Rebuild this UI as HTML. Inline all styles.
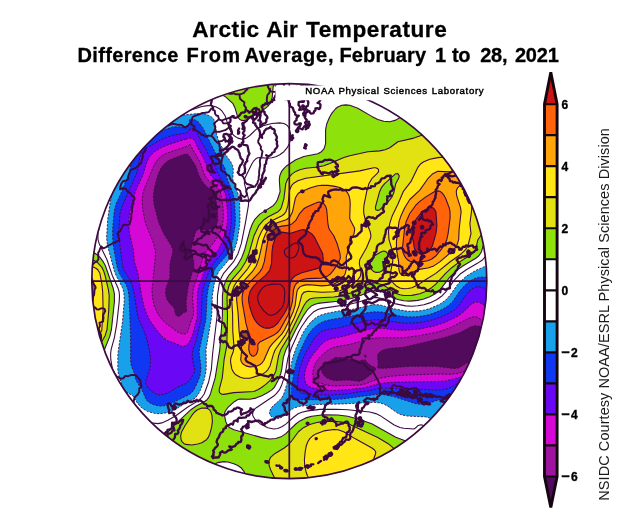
<!DOCTYPE html>
<html lang="en"><head><meta charset="utf-8"><title>Arctic Air Temperature</title>
<style>
html,body{margin:0;padding:0;background:#fff}
body{width:633px;height:525px;overflow:hidden;font-family:"Liberation Sans",sans-serif}
svg{display:block;position:absolute;left:0;top:0}
.t1{font:bold 22.6px "Liberation Sans",sans-serif;fill:#000;stroke:#000;stroke-width:.3}
.t2{font:bold 20px "Liberation Sans",sans-serif;fill:#000;stroke:#000;stroke-width:.3}
.cl{fill:none;stroke:#3b0a40;stroke-width:1.1;stroke-linejoin:round}
.ng{stroke-dasharray:2.2 1.4;stroke-width:1;stroke-opacity:.85}
.cbo{fill:none;stroke:#14060f;stroke-width:2.9;stroke-linejoin:miter}
.cbl text{font:bold 12px "Liberation Sans",sans-serif;fill:#000;stroke:#000;stroke-width:.35}
.side{font:14.5px "Liberation Sans",sans-serif;fill:#1a1a1a}
.noaa{font:9.6px "Liberation Sans",sans-serif;fill:#000;stroke:#000;stroke-width:.45;word-spacing:.6px}
.coast{fill:none;stroke:#3b0a40;stroke-width:2.3;stroke-linejoin:round;stroke-linecap:round}
.isl{stroke-width:2.6;fill:rgba(59,10,64,.5)}
.bord{fill:none;stroke:#3b0a40;stroke-width:1.9;stroke-linejoin:round}
.fr{fill:none;stroke:#3b0a40;stroke-width:1.7}
</style></head>
<body>
<svg width="633" height="525" viewBox="0 0 633 525">
<rect width="633" height="525" fill="#fff"/>
<text class="t1" y="36.6"><tspan x="192.2" style="letter-spacing:0.56px">Arctic</tspan> <tspan x="266.3" style="letter-spacing:0.00px">Air</tspan> <tspan x="306.0" style="letter-spacing:0.56px">Temperature</tspan></text>
<text class="t2" y="62"><tspan x="77.6" style="letter-spacing:0.33px">Difference</tspan> <tspan x="186.6" style="letter-spacing:1.13px">From</tspan> <tspan x="244.4" style="letter-spacing:0.77px">Average,</tspan> <tspan x="339.5" style="letter-spacing:0.14px">February</tspan> <tspan x="435.0" style="letter-spacing:0.00px">1</tspan> <tspan x="452.0" style="letter-spacing:-0.30px">to</tspan> <tspan x="480.3" style="letter-spacing:-0.30px">28,</tspan> <tspan x="514.9" style="letter-spacing:-0.20px">2021</tspan></text>
<defs><clipPath id="disc"><circle cx="289.3" cy="281.2" r="197.5"/></clipPath></defs>
<g clip-path="url(#disc)">
<rect x="80" y="70" width="420" height="420" fill="#fff"/>
<g id="field">
<path fill="#8ee10a" d="M85.8,77.7L274,77.7L272.2,97.7L269.9,103.7L267.8,106.3L263.7,109.7L247.8,119.5L243.8,120.6L241.8,120.4L239.8,119.5L237.8,117.2L234.9,107.7L233,103.7L225.8,97.1L223.8,95.8L219.8,94.7L213.8,94.6L207.8,95.8L201.8,97.9L193.8,101.4L189.8,102.6L173.8,101.8L163.8,103.2L153.8,106.7L144,111.7L133.8,118.2L124.3,125.7L118.6,131.7L113.8,138.3L109.8,145.7L105.9,155.7L97.8,182.1L95.8,191.7L93.3,209.7L87.4,225.7L86.3,229.7L85.9,233.7L87,241.7L89.4,247.7L92.5,251.7L97.8,255.2L99.8,257.2L103.2,261.7L105.4,265.7L113,287.7L114.4,293.7L114.4,301.7L111.4,329.7L109.8,336.4L104.4,349.7L103.6,353.7L103.7,359.7L105.6,371.7L104.7,387.7L105.2,395.7L107.1,403.7L110.4,411.7L115.4,419.7L120.5,425.7L127.8,432.2L135.8,437.2L143.8,440.5L149.8,441.5L155.8,440.9L161.8,438L165.8,434.4L173.9,425.7L190.9,409.7L195.8,406.3L204.4,401.7L207,399.7L208.6,397.7L210.5,393.7L215.2,377.7L219.8,349.7L222.4,315.7L222.4,295.7L223.4,287.7L225.8,280.4L228.6,275.7L237.1,265.7L241.7,257.7L244.7,249.7L250.1,229.7L252.4,223.7L254.6,219.7L259.8,214.1L273.1,205.7L275.8,202.6L277.4,199.7L280.1,191.7L279.3,179.7L279.8,175.7L281.4,171.7L283.8,168.6L286.8,165.7L295.8,159.8L303.8,156.5L317.8,153.7L321.4,151.7L323.3,149.7L324.4,147.7L325.6,143.7L325.6,129.7L326.8,123.7L329.3,117.7L331.5,113.7L335.8,108.5L337.8,107L341.8,105.3L345.8,104.9L349.8,105.3L357.8,108.2L371.8,116.4L377.8,119.4L383.8,121.3L389.8,121.8L395.8,120.1L403.8,115.3L407.8,113.8L411.8,113.4L421.8,114.8L425.8,114.5L433.8,112.5L455.8,105.3L467.8,102.5L475.8,101.6L481.8,101.6L487.8,102.2L493.8,103.6L493.8,226.5L490.3,233.7L484.3,241.7L481.5,251.7L479.8,254.7L475.8,258.2L461.8,266.6L455.8,271.1L449.4,277.7L441.8,287.7L437.8,292L431.8,295.7L423.8,299L413.8,300.9L407.8,301L401.8,300.4L393.8,298L379.8,290.6L375.8,290.3L369.8,291.7L357.8,296.6L347.8,299.5L337.8,301.3L319.8,303.1L315.8,304L311.8,305.7L307.8,309.3L303.8,315.1L295.8,329.5L285.9,349.7L283.3,357.7L281.7,369.7L280.7,373.7L277.8,381L274.1,387.7L271.8,389.9L267.8,392.5L261.8,395.7L255.8,398.1L249.8,399.3L239.8,399L237.5,399.7L234.3,401.7L227.7,407.7L225,411.7L224.5,413.7L224.9,417.7L225.8,421.7L227.7,425.7L229.8,427.8L234,429.7L261.8,437.6L269.8,439L275.8,438.5L281.8,436.4L285.8,433.6L295.8,424L299.8,420.9L305.8,417.9L311.8,416.2L323.8,414.8L337.8,415L347.8,416.3L360.3,419.7L371.8,423.8L395.8,437.2L407.8,441.8L419.8,451L433.8,460.7L473.8,485.7L250.1,485.7L244.1,471.7L241,467.7L237.8,465.5L233.8,463.7L227.8,462L223.8,461.6L217.8,462.6L215.5,463.7L211.8,466.4L202.9,475.7L195.6,485.7L85.8,485.7Z"/>
<path fill="#e2e212" d="M85.8,77.7L216.9,77.7L195.8,88.1L189.8,90.6L183.8,91.8L165.8,93.3L159.8,94.6L151.8,97.1L143.8,100.7L135.8,105.1L127.8,110.5L121.8,115.2L115.8,120.8L109.8,127.8L104.5,135.7L100.3,143.7L96.2,153.7L92.2,165.7L88.7,177.7L85.8,191ZM461.6,131.7L471.8,130.1L479.8,130.6L487.8,132.9L493.8,136.5L493.8,193.2L487.8,203.6L483.8,213.7L481.9,219.7L481.4,223.7L483,229.7L482.9,231.7L482.1,233.7L477.9,239.7L475.8,249.2L474.3,251.7L469.4,255.7L457.8,263.1L451.8,267.7L445.4,273.7L435.8,284.1L431.8,287.5L424.8,291.7L419.8,293.8L409.8,295.5L403.8,295.5L399.8,294.8L393.8,292.2L385.8,286.6L381.8,284.5L373.8,282.8L371.8,282.9L367.8,284.4L354.3,291.7L342.5,295.7L333.8,297L313.8,298L309.8,299L306.4,301.7L303.8,305.7L289.1,335.7L280.7,349.7L278.6,355.7L275.8,371.3L273.6,375.7L269.8,380.7L265.8,384.4L261.2,387.7L257.8,389.8L253.8,391.5L233.8,392.6L223.8,394.4L221.8,394.3L219.8,392.9L219.3,391.7L219.2,389.7L222.3,377.7L224.1,359.7L226.8,345.7L227.5,315.7L227,297.7L227.5,291.7L228.4,287.7L229.9,283.7L232.1,279.7L240.7,269.7L245.7,261.7L248.9,253.7L254,235.7L258.7,225.7L264,219.7L267.8,217L278.1,211.7L280.1,209.7L281.3,207.7L283.8,199.2L285.8,183.7L287.3,179.7L289.8,176L293.8,172.6L299.8,169.7L305.8,168.3L317.8,167L323.8,165.7L347.8,156.2L367.8,151.8L379.8,150.9L385.1,149.7L389.8,147.7L397.8,141.8L413.8,138.1L419.8,135.7L421.8,135.2L427.8,135.3L437.8,137L441.8,137.2L447.8,136ZM395.8,173.7L384.6,183.7L381.4,187.7L379.6,191.7L375.8,205.7L375.4,207.7L375.8,209.8L377.8,210.5L379.9,209.7L387.8,202.2L391.8,197.3L393.8,192.8L395.7,183.7L398.9,177.7L399.2,175.7L397.8,173.6ZM381.8,251.5L374.5,255.7L371.8,261.3L369.8,262.6L369.2,263.7L369.8,266.6L371.6,269.7L373.8,271.6L375.8,272.4L379.8,272.1L381.8,271.1L383.8,268.9L385.2,265.7L385.8,261.7L387.9,255.7L387.8,253.7L385.8,251.6L383.8,251ZM85.8,255.7L85.8,254.9L97.8,262.8L102.1,267.7L103.8,271.3L105.1,275.7L108.4,289.7L109.2,295.7L108.8,309.7L107,329.7L105.1,335.7L98.4,347.7L97,351.7L96.2,355.7L96.2,373.7L95.1,395.7L95.8,403.7L97.3,411.7L101.8,425.2L107.8,437L115.8,449.1L135,473.7L138.7,479.7L141.4,485.7L85.8,485.7ZM197.4,409.7L201.8,408.1L205.8,408.1L207.8,408.6L209.4,409.7L210.8,411.7L212,415.7L212.4,421.7L211.5,427.7L209.9,433.7L208.1,437.7L206.5,439.7L201.8,442.8L197.8,444L191.8,445L185.8,444.4L183.8,443.4L182,441.7L181.1,439.7L180.7,435.7L181.7,431.7L185,425.7L191.6,415.7L194.9,411.7ZM321.1,421.7L333.8,421.1L339.8,421.7L345.8,423.2L352.4,425.7L369.8,433.6L385.4,441.7L392.9,447.7L399.5,455.7L404.8,463.7L417.9,485.7L278.2,485.7L270.6,469.7L269.2,465.7L268.8,461.7L270.3,457.7L274.7,453.7L283.8,448.2L287.8,445.2L291.8,440.8L298.4,431.7L301.8,428.7L309.8,424.5L315.8,422.7Z"/>
<path fill="#ffe614" d="M85.8,77.7L180,77.7L157.8,83.5L145.8,87.8L131.8,95L119.8,103.3L108.5,113.7L99.8,124.3L91.8,137.7L85.8,151.5ZM460.4,151.7L465.8,150.5L469.8,150.4L473.8,151.1L477.8,152.7L481.6,155.7L483.3,157.7L485.3,161.7L486.3,165.7L486.2,171.7L483.8,179.1L479.8,185.6L473.2,193.7L471.5,197.7L471.7,209.7L469.9,223.7L471,233.7L468,245.7L465.6,249.7L461.5,253.7L450.2,261.7L435.8,273.4L425.5,279.7L417.8,285.1L411.9,287.7L407.8,288.5L403.8,288.7L399.8,288L396,285.7L393.8,283.7L390.9,279.7L390.2,277.7L390.3,273.7L392.7,261.7L393.1,255.7L392,249.7L389,239.7L388.5,231.7L389.7,223.7L392.3,215.7L398.1,203.7L403.2,191.7L410.9,181.7L417.7,167.7L420.8,163.7L423.8,161.7L429.8,159.2L437.8,157.6L447.8,156.8ZM373.7,167.7L375.8,167.8L377.8,168.8L378.5,169.7L378.6,171.7L377,173.7L371.8,178.7L368.9,183.7L366.7,191.7L363.9,205.7L363.6,209.7L363.8,213.7L364.8,217.7L370.2,231.7L370.9,235.7L370.7,237.7L366.5,247.7L359.7,259.7L359.3,263.7L361,271.7L360.5,275.7L359.5,277.7L357.8,279.9L353.3,283.7L346.8,287.7L339.8,290.7L333.8,291.7L321.8,292.2L307.8,291.3L303.8,292.4L301.8,294.9L299,305.7L294.3,317.7L285.8,334.6L275.2,349.7L273.6,353.7L270.1,365.7L267.8,369.8L265.8,371.9L261.8,374.6L249.8,378.2L243.8,378.2L239.8,376.9L235.8,374.8L233.8,372.7L231.8,368.9L230.5,361.7L230.9,357.7L233.2,351.7L234.1,347.7L232.8,331.7L232.6,313.7L231.7,299.7L231.9,293.7L232.7,289.7L234.3,285.7L236.8,281.7L247,269.7L250.8,263.7L253.9,255.7L258.7,237.7L261.4,231.7L263.8,227.7L267.3,223.7L269.8,221.8L282,215.7L284.5,213.7L286,211.7L287.9,205.7L289.7,189.7L291.5,185.7L293.8,183.2L297.8,180.7L305.8,178.2L359.8,170.9ZM85.8,263.7L85.8,263.3L95.8,268.3L97.8,269.7L99.8,273L101.8,283.7L102.7,291.7L103.1,309.7L101.8,330.2L100,333.7L96.2,337.7L93.3,341.7L89.5,349.7L87.2,359.7L85.8,375.1ZM85.8,421.7L88.6,433.7L91.8,444.6L106.5,485.7L85.8,485.7ZM330.4,429.7L337.8,429.7L343.7,431.7L355.8,439.1L371.5,447.7L374.3,449.7L375.7,451.7L375.6,453.7L371.8,464.2L363.8,479.6L359.9,485.7L316.9,485.7L311.8,481.7L307.8,476.5L305.5,469.7L304.4,461.7L305.5,449.7L307.8,441.7L310.6,437.7L316.1,433.7L321.8,431.4Z"/>
<path fill="#ffa50a" d="M85.8,77.7L137.8,77.7L129.8,82.2L121.8,87.4L113.8,93.4L107.8,98.7L101.8,104.6L95.8,111.5L91.1,117.7L85.8,126ZM456.9,167.7L459.8,166.3L461.8,165.9L465.8,166.7L467.2,167.7L468.6,169.7L469.2,173.7L467.8,177.7L466.4,179.7L457.8,187.6L456.7,189.7L456.3,191.7L456.7,195.7L460.5,207.7L461.1,211.7L459.1,229.7L458.7,239.7L456.8,245.7L455.5,247.7L451.7,251.7L439.8,261.9L433.8,265.9L427.8,268L417.8,269.6L407.8,275.3L403.8,275.8L401.8,275L399.8,272.9L398.9,269.7L398.6,261.7L396.5,249.7L396.4,241.7L399,221.7L401,215.7L404.7,207.7L409.8,199.5L419.8,190.1L427.8,178.7L432.8,173.7L437.8,171.2L449.8,171.9L451.8,171.3ZM317.6,185.7L321.8,185.3L327.8,185.4L333.8,186.1L339.8,187.5L343.8,189.4L345.8,190.9L347.8,193.2L349,195.7L349.9,199.7L350.2,203.7L349.7,217.7L350.2,219.7L354.4,227.7L354.7,229.7L354,233.7L350.1,241.7L349.2,247.7L346.6,255.7L346.2,257.7L346.7,267.7L345.2,273.7L342.8,277.7L341,279.7L337.8,282.3L333.8,284.1L327.8,285.4L321.8,285.9L309.8,284.8L305.8,284.9L301.8,285.9L299.8,287.1L297.8,289.4L296.9,291.7L295.1,305.7L293.2,311.7L289.8,319.3L284.6,329.7L281.8,334.1L272.5,343.7L269.4,347.7L263.8,360.5L261.8,363.1L259.8,364.7L255.8,366.5L249.8,366.9L245.8,365.9L242.7,363.7L241.3,361.7L240.7,359.7L241.7,349.7L239.1,331.7L238.1,313.7L236.6,299.7L236.8,293.7L237.8,289.7L241.4,283.7L252.3,271.7L256.3,265.7L259.1,257.7L263.2,239.7L265.6,233.7L268,229.7L269.8,227.6L273.8,224.4L277.8,222.5L286.2,219.7L289.8,217.3L292.5,211.7L295.5,197.7L297.9,193.7L299.8,192.3L310.6,187.7ZM85.8,273.7L85.8,273.3L89.8,275.9L91.6,277.7L92.7,279.7L93.9,283.7L94.3,289.7L93.2,299.7L89.4,311.7L89.6,319.7L89.2,323.7L85.8,333.1Z"/>
<path fill="#ff640a" d="M85.8,77.7L113,77.7L105.8,83.7L97.8,91.3L85.8,105.1ZM434.3,191.7L437.8,190.9L439.8,191.3L441.8,192.6L443.8,195.1L445.8,198.7L449.2,207.7L450,211.7L450.1,217.7L448.1,233.7L446.8,239.7L445.1,243.7L441.1,249.7L436.1,255.7L431.8,259L427.8,260.7L421.8,261.8L413.8,262L409.8,261.2L407.8,260.1L405.5,257.7L403.4,253.7L402.3,249.7L404.4,229.7L406.1,221.7L409.8,213.5L415.8,205.2L419.8,201.4L425.8,196.9ZM314.1,203.7L317.8,202.2L319.8,202L321.8,202.5L323.8,203.7L325.8,206.6L326.7,209.7L327.9,223.7L328.7,227.7L329.6,229.7L333.8,235.8L337.2,243.7L340,253.7L340.3,257.7L339.8,259.7L337.8,263.8L333.8,269.9L330.7,273.7L327.8,275.9L321.8,278.1L307.8,278.6L303.8,279.3L299.8,280.8L296.2,283.7L294.9,285.7L293.5,289.7L292.4,301.7L290.3,309.7L287.8,315.4L279.9,329.7L277.8,332.2L273.8,335.1L259.8,342.1L258.3,343.7L257.8,344.9L258,349.7L256.7,353.7L255.8,354.9L253.8,356.1L251.8,355.9L249.8,353.6L248.8,349.7L248.9,345.7L250,339.7L249.9,337.7L246,323.7L242.5,303.7L242,297.7L243,291.7L246.5,285.7L259.8,271.9L262.4,267.7L264.3,261.7L267.7,241.7L269.9,235.7L272.2,231.7L274,229.7L277.8,227.2L281.8,226.1L287.8,225.4L292.2,223.7L295.8,220.4L299.8,213.3L303.8,208.8L305.8,207.5Z"/>
<path fill="#cc1414" d="M85.8,77.7L92.4,77.7L85.8,84.8ZM429.5,207.7L431.8,207.5L433.8,208.3L435.9,211.7L436.9,225.7L435.9,233.7L432.5,245.7L429.8,250.6L427.8,252.2L425.8,253L421.8,253.6L419.8,253.4L416.6,251.7L415,249.7L414.3,247.7L411.8,233.7L412.1,227.7L413.6,223.7L415.8,219.7L419.8,214.5L425.1,209.7ZM301.6,229.7L303.8,229.6L307.8,231.3L311.8,233.9L314.8,237.7L322.7,253.7L323.3,259.7L322.2,263.7L319.8,267L317.8,268.4L301.8,272.7L295.8,275.4L293,277.7L291.5,279.7L290.1,283.7L288.9,299.7L288,305.7L286.4,309.7L283.8,314.3L277.8,323L273.8,326.7L269.8,328.1L265.8,328.1L263.8,327.7L259.9,325.7L257.6,323.7L254.6,319.7L251.9,313.7L249.8,307.2L248.7,301.7L248.6,297.7L249.8,292.3L251.1,289.7L254.1,285.7L257.8,281.9L265.2,275.7L268.7,271.7L269.8,269.7L271.5,263.7L272,251.7L272.8,245.7L275.3,237.7L277.8,233.8L279.8,232.4L281.8,232.1L289.8,233.4Z"/>
<path fill="#18a0ea" d="M195.5,113.7L201.8,113.5L205.8,114.3L209.8,115.9L212.4,117.7L213.8,119.3L215.3,123.7L216.6,133.7L218.2,139.7L225.8,155L230.7,161.7L232.7,165.7L233.3,169.7L232.8,179.7L237.4,191.7L239.5,199.7L240,219.7L239.6,225.7L237,241.7L233.7,251.7L229,259.7L218.6,271.7L216,277.7L214.3,283.7L212.3,295.7L211.9,311.7L211.1,319.7L206,349.7L206.3,365.7L205.9,371.7L204.2,379.7L200.6,389.7L198.6,393.7L195.7,397.7L192.7,399.7L184.6,403.7L177.8,408.1L171.8,411L165.8,412.9L159.8,413.7L155.8,413.6L147.8,411.6L141.8,408.1L137.8,403.7L132.8,395.7L125.8,391.7L123.8,389.3L121.8,384.8L118.4,373.7L117.8,369.7L117.9,353.7L122.5,321.7L124.2,301.7L124.2,295.7L123.7,291.7L122.5,287.7L116.2,275.7L114.5,271.7L107.5,245.7L106.6,237.7L107.7,219.7L110.3,201.7L112.1,193.7L120.8,171.7L125.6,151.7L127.4,147.7L130,143.7L133.7,139.7L137.8,136.5L157.8,124.1L165.8,120L177.8,115.6ZM493,261.7L493.8,261L493.8,415L483.8,413.8L475.8,414.1L467.8,416.1L449.8,423L445.8,423.6L441.8,423.5L437.8,422.4L429.8,418.1L425.8,416.9L407.8,416.1L401.8,414.9L397.8,413.3L387.8,406.2L383.8,404.1L379.8,402.9L373.8,402.3L343.8,403.9L317.8,404.5L301.8,406L297.8,406.7L293.8,408.1L289.8,410.7L283.8,416L279.8,418.2L275.8,418.6L273.8,418.1L270.5,415.7L269.6,413.7L269.5,411.7L270.1,409.7L273.1,405.7L279.8,399.9L281.7,397.7L284.7,391.7L288.1,379.7L293.3,355.7L295.8,348.8L301.8,335.2L303.8,331.4L307.8,325.6L311.8,321.1L315.8,317.7L319.8,315.4L325.8,313.5L337.8,311.2L351.8,309.5L373.8,304.6L379.8,304.9L395.8,309.2L407.8,311.3L417.8,311.1L423.8,310.2L429.8,308.6L439.8,304.2L445.8,300L449.6,295.7L458.3,283.7L465.8,276.6L473.8,271.4L486.8,265.7Z"/>
<path fill="#1038f2" d="M189.4,119.7L191.8,119.1L195.8,120.2L198,121.7L202.8,127.7L214.7,151.7L224.8,167.7L226.7,177.7L232.5,191.7L234.4,199.7L235.4,217.7L235.1,225.7L232.8,239.7L229.6,249.7L225.8,256.3L217.4,265.7L214.6,269.7L211.2,277.7L208.3,287.7L207.1,295.7L205.9,319.7L199,351.7L200.8,365.7L200.9,369.7L200,375.7L197.8,381.8L193.8,389.9L191.8,392.5L189.8,394.2L169.8,404L163.8,405.8L159.8,406L155.8,405.3L151.8,403.9L148.2,401.7L146.3,399.7L141.9,389.7L136.8,381.7L135.2,377.7L133.8,371.8L131.3,365.7L130.6,359.7L130.6,335.7L129,295.7L128,289.7L126.6,285.7L124.6,281.7L119.5,273.7L117.3,267.7L114,249.7L112.8,239.7L112.7,229.7L113.8,215.7L114.6,209.7L116.2,203.7L121.7,191.7L129.7,171.7L132.3,155.7L133.6,151.7L136,147.7L137.9,145.7L141.8,142.7L151,137.7L159.8,132.1L165.8,129.2L173.8,126.8L183.8,127L187.8,125.9L188.9,123.7ZM477.1,277.7L481.8,277L487.8,277.3L493.8,276.7L493.8,393.6L475.8,391.8L467.8,392.1L463.8,393.4L455.8,398.7L451.8,400.2L439.8,399.8L435.8,400.7L427.8,403.8L421.8,404.4L415.8,403.7L393.8,396.6L381.8,394.2L377.8,394.3L369.8,395.6L359.8,396.5L343.8,398.8L331.8,399.5L305.8,400L299.8,399.8L295.8,398.9L293.7,397.7L292.2,395.7L291.4,391.7L292,383.7L294.9,367.7L298.3,355.7L301.8,347.3L307.8,335.4L311.9,329.7L317.8,324.4L323.8,321.4L329.8,319.8L349.8,316.5L365.8,313L373.8,311.8L381.8,312.1L399.8,316L407.8,317L417.8,316.8L429.8,314.5L441.8,309.7L448.4,305.7L452.6,301.7L459.8,291L464.4,285.7L469.8,281.2L473.8,279Z"/>
<path fill="#6a08f5" d="M189.3,129.7L191.8,128.2L193.8,128.8L195.8,130.9L202.5,143.7L206.2,149.7L209.8,157.3L214.1,163.7L218,173.7L223.8,182.5L227.6,189.7L229.5,195.7L230.8,203.7L231.5,217.7L231.1,225.7L228.8,237.7L225.4,247.7L222,253.7L213.8,263L210.7,267.7L207.3,275.7L203.3,287.7L202.2,293.7L201.1,319.7L198,331.7L196.4,339.7L193,349.7L192.3,353.7L192.3,357.7L194.7,369.7L193.8,373.7L189.8,380.1L185.8,383.6L177.8,387L167.8,393L163.8,394.4L159.8,394.9L155.8,394L151.8,391.6L147.8,387.4L145.9,383.7L146.1,379.7L149.5,369.7L150.2,365.7L150.5,359.7L149.6,351.7L148,343.7L145.7,335.7L143.5,329.7L139.7,321.7L137.6,315.7L134.2,293.7L132.4,285.7L129.9,279.7L123.8,270L122.6,265.7L120.4,249.7L118.7,231.7L120,213.7L121.8,207.1L137.3,171.7L139.6,157.7L141,153.7L142.3,151.7L144.4,149.7L150.1,145.7L161.8,139.3L173.8,135L185.8,133.2L188.3,131.7ZM474.2,287.7L477.8,286.6L481.8,287.1L489.8,291.8L493.8,293.5L493.8,380.1L461.8,381.9L457.8,383.4L451.8,387L447.8,388.8L439.8,390L429.8,390L419.8,389.2L407.8,389.4L389.8,388.3L381.8,388.2L377.8,388.7L367.8,391.1L359.8,391.7L347.8,393.8L327.8,395L304.5,393.7L299.8,391.8L298.4,389.7L297.8,387.7L297.6,383.7L298.6,373.7L299.9,367.7L302.6,359.7L306.3,351.7L313.4,339.7L317.8,334.4L321.3,331.7L327.8,329.4L339.8,327.7L362.5,321.7L371.8,319.9L381.8,319.8L399.8,322.8L407.8,323.3L419.8,322.6L431.8,320.1L445.8,314.8L454.6,309.7L458.6,305.7L467.8,292.7L471,289.7Z"/>
<path fill="#d608d6" d="M183.9,139.7L189.8,138.1L191.8,138.3L193.8,139.7L195.2,141.7L197.7,147.7L201.8,154.8L206.8,165.7L209.8,174L212.9,177.7L219.8,184.1L223.7,189.7L225.2,193.7L226.4,199.7L227.6,217.7L227.3,223.7L226.2,229.7L221.8,242.9L218.4,249.7L211.3,257.7L207.3,263.7L204.8,269.7L198.4,287.7L197.4,293.7L197.1,317.7L192.4,335.7L189.8,341.3L187.8,344.1L185.8,345.6L183.8,346.3L181.8,346.4L175.8,343.6L167.8,340.8L163.8,337.9L159.8,333.8L153.8,326.3L149.4,319.7L146.4,313.7L143.8,305.9L141.8,296.8L138,273.7L134.4,261.7L133.6,251.7L129.6,233.7L128.7,223.7L128.9,217.7L129.8,211.7L134.5,193.7L136.8,187.7L142.6,175.7L147,161.7L148.8,157.7L150.2,155.7L153.8,152.2L159.8,148.3L165.8,145.6ZM472,303.7L475.8,301.9L479.8,302.4L489.8,308.8L493.8,310.9L493.8,368.5L483.8,371.6L467.8,375.2L445.8,380.9L435.8,381.6L397.8,382.1L385.8,382.7L377.8,384L364.9,387.7L345.8,389.8L331.8,390.5L321.3,389.7L311.7,387.7L307.8,385.7L305.8,383.2L304.7,379.7L304.7,373.7L306.1,367.7L309.5,359.7L313.4,353.7L320.1,345.7L323.8,342.1L327.8,339.8L331.8,338.5L343.8,336.2L365.8,330L371.8,328.8L381.8,328.3L397.8,330.1L405.8,330.2L419.8,328.9L433.8,326.1L445.8,322.1L457.8,316.2L463.7,311.7Z"/>
<path fill="#9e149e" d="M188.6,145.7L189.8,144.2L199.8,161.7L204,173.7L206.1,177.7L209.7,181.7L217.8,188.2L220.3,191.7L222.1,199.7L223.1,209.7L223.4,217.7L222.5,225.7L219.8,232.7L213.8,242.6L205.8,251.9L202.9,257.7L198.9,271.7L194.7,283.7L193.2,289.7L192.6,297.7L193.6,311.7L193.2,315.7L190.1,323.7L187.9,331.7L185.8,333.5L183.8,334.1L181.8,333.8L177.8,332L165.8,323.3L161.8,319.1L157.8,313.7L154.3,305.7L152.5,297.7L152,289.7L155.3,257.7L155.5,251.7L153.7,243.7L146.5,225.7L144.6,219.7L142.6,207.7L142.2,199.7L142.8,193.7L144,189.7L153.8,165.7L157.5,159.7L161.8,155.8L165.8,153.5ZM470,317.7L473.8,316.7L475.8,316.8L477.8,317.5L481.8,319.9L489.8,322.8L493.8,325.4L493.8,354.1L487.5,359.7L481.8,363.3L461.8,372.3L457.8,373.5L451.8,374.2L435.8,374L405.8,375.1L389.8,376.3L379.8,378.2L365.8,383.7L361.8,384.8L357.8,385.3L333.8,386L327.8,385.4L321.8,383.8L317.8,382L314.9,379.7L313.6,377.7L312.9,375.7L312.7,371.7L313.7,367.7L316.4,361.7L319.5,357.7L323.8,353.6L327.8,350.3L331.8,348.1L337.8,346.3L351.8,344L365.8,339.8L373.8,338.3L381.8,337.6L403.8,337.7L419.8,335.5L435.8,332.4L441.8,330.8L451.8,327.1Z"/>
<path fill="#520a5c" d="M180.4,155.7L185.8,154.1L187.8,154.4L189,155.7L195.5,165.7L199.1,175.7L201.8,180.9L205.8,185.8L212.6,191.7L214.2,193.7L215.8,198.3L217.5,211.7L217.7,217.7L217.5,221.7L216.8,223.7L215.5,225.7L211.8,228.7L207.8,229.8L199.8,229L197.8,229.5L195.6,231.7L192.1,243.7L191.4,247.7L191.7,251.7L193.7,261.7L193.8,267.7L189.4,281.7L188,287.7L186,301.7L186.6,311.7L183.8,312.4L179.8,316L177.8,316.2L176.8,315.7L175.3,313.7L174.7,309.7L173.9,307.7L169.8,303.4L167.1,299.7L165.5,293.7L166.1,287.7L169.9,277.7L170,263.7L172.5,253.7L172.9,249.7L171.3,245.7L163.8,233.7L159.2,223.7L154.4,205.7L153.4,197.7L153.8,191.7L155.9,181.7L158.4,173.7L161.3,167.7L164.5,163.7L167.8,161.1L171.8,158.9ZM469.1,327.7L471.8,326.5L475.8,325.7L479.8,326.4L481.8,327.3L484.5,329.7L485.5,331.7L485.8,333.7L485.6,335.7L482,341.7L479.9,349.7L478.1,353.7L476.6,355.7L471.9,359.7L459.8,367.3L457.8,368.1L453.8,368.4L435.8,366.3L409.8,366.3L385.8,368.2L379.8,368.2L377.2,367.7L377.8,367L378.2,363.7L377.6,355.7L378.2,353.7L380.1,351.7L383.8,349.7L389.8,348.4L403.8,347.2L443.8,337.8L459.8,332.8ZM363.9,355.7L365.8,355.1L366.4,355.7L365.8,357.4ZM335.5,357.7L339.8,357.4L343.1,357.7L355.8,360.9L359.8,360.9L363.8,359.8L365.8,360.4L366.4,361.7L368.3,363.7L371.8,366.2L375.4,367.7L375.8,369.7L371.7,373.7L366.5,377.7L363.5,379.7L359.8,381.3L347.8,379.9L335.8,380.5L331.8,380L326.7,377.7L323.8,375.3L321.7,371.7L321.7,367.7L323,365.7L325.8,363.4Z"/>
<path class="cl" d="M207.8,105.6L201.8,106.5L191.8,109.7L189.8,110L179.8,109L175.8,109.1L171.3,109.7L165.8,111.2L159.5,113.7L151.8,117.7L137.8,126.5L130.8,131.7L123.8,138.9L118.6,147.7L116.2,153.7L111.7,169.7L106.1,185.7L104.5,191.7L102.6,211.7L98.8,229.7L97.9,231.7L98,239.7L99.2,243.7L107,259.7L112.4,275.7L117.9,287.7L119.1,291.7L119.5,295.7L119.2,301.7L116.8,323.7L114.4,337.7L111.1,349.7L110.6,353.7L110.8,359.7L112.9,371.7L112.7,381.7L113.5,389.7L115.2,395.7L117.8,400.9L121.8,406.2L125.8,410.4L131.8,415.6L135.8,418.2L141.8,420.9L147.8,422.5L157.8,423.6L161.8,422.9L167.8,420.3L175.8,415.8L187.8,407L197.8,401.1L201.6,397.7L204.3,393.7L208.7,381.7L211.3,369.7L212.6,353.7L217.1,315.7L217.5,295.7L219.3,283.7L221.3,277.7L223.4,273.7L233.6,261.7L238,253.7L241.3,243.7L245.3,223.7L248.4,205.7L248.7,201.7L248.2,197.7L244.4,183.7L244.5,179.7L245.1,177.7L251.8,164L253.8,160.8L255.8,158.8L257.8,157.8L259.8,157.6L267.8,158.2L271.8,157.8L275.8,156.7L279.8,154.8L283.9,151.7L287.2,147.7L289.3,143.7L290.5,139.7L290.6,133.7L288.9,127.7L287.5,125.7L285.8,124.4L283.8,123.5L279.8,122.9L271.8,123.5L263.1,125.7L258.6,127.7L255.8,129.6L249.8,135.5L245.8,138.4L241.8,139.1L237.8,138.1L233.8,135.5L230.8,131.7L228.9,127.7L225.1,115.7L221.8,110.8L219.8,109L215.8,106.8L211.8,105.8L207.8,105.6M493.8,244.1L489.8,249.5L486.2,255.7L482.7,259.7L477.8,263.1L466.3,269.7L460.6,273.7L454.7,279.7L445.8,291.8L442.2,295.7L436.6,299.7L429.8,302.9L423.8,304.7L417.8,305.8L411.8,306.2L405.8,305.9L395.8,303.9L381.8,298.5L375.8,297.4L369.8,298.5L357.8,302.3L349.8,304.3L321.8,308.4L317.8,309.5L313.8,311.7L307.8,317.6L301.8,326.3L298.7,331.7L291.5,347.7L288,357.7L285.6,371.7L284.1,377.7L281.8,384.7L279.5,389.7L276.4,393.7L273.8,396L256.3,407.7L254.2,409.7L253,411.7L252.6,413.7L252.8,415.7L255.2,419.7L260,423.7L267.8,427.8L273.8,429L277.8,428.5L281.8,426.8L285.8,424.1L293.8,417L298.2,413.7L301.8,412.2L307.8,410.9L319.8,409.4L335.8,409.3L347.8,409.7L369.8,412L375.8,413.6L379.8,415.4L393.8,424.7L399.8,427.5L403.8,428.3L413.8,429L415.8,427.8L417.8,425.7L419.8,425L421.8,424.9L424.1,425.7L425.8,427L429.8,431.9L434.1,435.7L439.8,439L445.8,441.4L457.8,444.1L481.8,447L493.8,449.8M417.8,431.3L417.3,431.7L417.8,432.1L418.5,431.7L417.8,431.3M274,77.7L272.2,97.7L269.9,103.7L267.8,106.3L263.7,109.7L247.8,119.5L243.8,120.6L241.8,120.4L239.8,119.5L237.8,117.2L234.9,107.7L233,103.7L225.8,97.1L223.8,95.8L219.8,94.7L213.8,94.6L207.8,95.8L201.8,97.9L193.8,101.4L189.8,102.6L173.8,101.8L163.8,103.2L155.8,105.8L145.8,110.7L134.5,117.7L125.8,124.4L119.8,130.3L114.2,137.7L109.8,145.7L106.6,153.7L97.9,181.7L95.8,191.7L93.3,209.7L87.4,225.7L86.3,229.7L85.9,233.7L87,241.7L89.4,247.7L92.5,251.7L97.8,255.2L99.8,257.2L103.2,261.7L105.4,265.7L113,287.7L114.4,293.7L114.4,301.7L111.4,329.7L109.8,336.4L104.4,349.7L103.6,353.7L103.7,359.7L105.6,371.7L104.7,387.7L105.2,395.7L107.1,403.7L109.8,410.5L113.8,417.4L119.8,425L125.8,430.6L133.8,436.1L141.8,439.8L147.8,441.3L151.8,441.5L155.8,440.9L161.8,438L165.8,434.4L173.9,425.7L190.9,409.7L195.8,406.3L204.4,401.7L207,399.7L208.6,397.7L210.5,393.7L215.2,377.7L219.8,349.7L222.4,315.7L222.4,295.7L223.4,287.7L225.8,280.4L228.6,275.7L237.1,265.7L241.7,257.7L244.7,249.7L250.1,229.7L252.4,223.7L254.6,219.7L259.8,214.1L273.1,205.7L275.8,202.6L277.4,199.7L280.1,191.7L279.3,179.7L279.8,175.7L281.4,171.7L283.8,168.6L286.8,165.7L295.8,159.8L303.8,156.5L317.8,153.7L321.4,151.7L323.3,149.7L324.4,147.7L325.6,143.7L325.6,129.7L326.8,123.7L329.3,117.7L331.5,113.7L335.8,108.5L337.8,107L341.8,105.3L345.8,104.9L349.8,105.3L357.8,108.2L371.8,116.4L377.8,119.4L383.8,121.3L389.8,121.8L395.8,120.1L403.8,115.3L407.8,113.8L411.8,113.4L421.8,114.8L425.8,114.5L433.8,112.5L455.8,105.3L467.8,102.5L475.8,101.6L481.8,101.6L487.8,102.2L493.8,103.6M493.8,226.5L490.3,233.7L484.3,241.7L481.5,251.7L478.9,255.7L475.8,258.2L463.2,265.7L457.4,269.7L449.4,277.7L439.8,290.1L435.8,293.4L429.8,296.7L423.8,299L417.8,300.4L409.8,301.1L403.8,300.7L397.8,299.5L393.8,298L379.8,290.6L375.8,290.3L369.8,291.7L357.8,296.6L347.8,299.5L337.8,301.3L319.8,303.1L315.8,304L311.8,305.7L307.8,309.3L303.8,315.1L295.8,329.5L285.9,349.7L283.3,357.7L281.7,369.7L280.7,373.7L277.8,381L274.1,387.7L271.8,389.9L267.8,392.5L261.8,395.7L255.8,398.1L249.8,399.3L239.8,399L237.5,399.7L234.3,401.7L227.7,407.7L225,411.7L224.5,413.7L224.9,417.7L225.8,421.7L227.7,425.7L229.8,427.8L234,429.7L261.8,437.6L269.8,439L275.8,438.5L281.8,436.4L285.8,433.6L295.8,424L299.8,420.9L305.8,417.9L311.8,416.2L323.8,414.8L337.8,415L347.8,416.3L360.3,419.7L371.8,423.8L395.8,437.2L407.8,441.8L419.8,451L433.8,460.7L473.8,485.7M250.1,485.7L244.1,471.7L241,467.7L237.8,465.5L233.8,463.7L227.8,462L223.8,461.6L217.8,462.6L215.5,463.7L211.8,466.4L202.9,475.7L195.6,485.7M395.8,173.7L384.6,183.7L381.4,187.7L379.6,191.7L375.8,205.7L375.4,207.7L375.8,209.8L377.8,210.5L379.9,209.7L387.8,202.2L391.8,197.3L393.8,192.8L395.7,183.7L398.9,177.7L399.2,175.7L397.8,173.6L395.8,173.7M493.8,193.2L487.7,203.7L483.1,215.7L481.9,219.7L481.4,223.7L483,229.7L482.9,231.7L482.1,233.7L477.9,239.7L475.6,249.7L474.3,251.7L472.2,253.7L457.8,263.1L451.7,267.7L445.4,273.7L435.8,284.1L431.6,287.7L424.8,291.7L419.8,293.8L411.8,295.4L403.8,295.5L399.8,294.8L395.8,293.3L385.8,286.6L381.8,284.5L373.8,282.8L371.8,282.9L367.8,284.4L354.3,291.7L342.5,295.7L333.8,297L313.8,298L309.8,299L306.4,301.7L303.8,305.7L289.1,335.7L280.7,349.7L278.6,355.7L275.8,371.3L273.6,375.7L269.8,380.7L265.8,384.4L261.2,387.7L257.8,389.8L253.8,391.5L233.8,392.6L223.8,394.4L221.8,394.3L219.8,392.9L219.3,391.7L219.2,389.7L222.3,377.7L224.1,359.7L226.8,345.7L227.5,315.7L227,297.7L227.5,291.7L229,285.7L232.1,279.7L240.7,269.7L245.7,261.7L248.9,253.7L254,235.7L258.7,225.7L264,219.7L267.8,217L278.1,211.7L280.1,209.7L281.3,207.7L283.8,199.2L285.8,183.6L287.8,178.8L291.8,174.1L295.8,171.4L299.8,169.7L305.8,168.3L317.8,167L323.8,165.7L329.8,163.6L343.8,157.6L349.8,155.7L367.8,151.8L379.8,150.9L385.1,149.7L389.8,147.7L397.9,141.7L413.8,138.1L421.8,135.2L429.8,135.5L437.8,137L441.8,137.2L447.8,136L463.8,131.2L473.8,130.1L479.8,130.6L483.8,131.5L489.4,133.7L493.8,136.5M381.8,251.5L374.5,255.7L371.8,261.3L369.8,262.6L369.2,263.7L369.8,266.6L371.6,269.7L373.8,271.6L375.8,272.4L379.8,272.1L381.8,271.1L383.8,268.9L385.2,265.7L385.8,261.7L387.9,255.7L387.8,253.7L385.8,251.6L383.8,251L381.8,251.5M85.8,254.9L97.8,262.8L102.1,267.7L103.8,271.3L105.1,275.7L108.4,289.7L109.2,295.7L108.8,309.7L107,329.7L105.1,335.7L98.4,347.7L97,351.7L96.2,355.7L96.2,373.7L95.1,395.7L95.8,403.7L97.3,411.7L101.8,425.2L107.8,437L115.8,449.1L135,473.7L138.7,479.7L141.4,485.7M197.4,409.7L201.8,408.1L205.8,408.1L207.8,408.6L209.4,409.7L210.8,411.7L212,415.7L212.4,421.7L211.5,427.7L209.9,433.7L208.1,437.7L206.5,439.7L201.8,442.8L197.8,444L191.8,445L185.8,444.4L183.8,443.4L182,441.7L181.1,439.7L180.7,435.7L181.7,431.7L185,425.7L191.6,415.7L194.9,411.7L197.4,409.7M278.2,485.7L270.6,469.7L269.2,465.7L268.8,461.7L270.3,457.7L274.7,453.7L283.8,448.2L287.8,445.2L291.8,440.8L298.4,431.7L303.8,427.4L309.8,424.5L315.8,422.7L323.8,421.4L331.8,421.1L341.8,422.1L349.8,424.6L377.8,437.5L388.2,443.7L392.9,447.7L399.5,455.7L404.8,463.7L417.9,485.7M460.4,151.7L465.8,150.5L469.8,150.4L473.8,151.1L477.8,152.7L481.6,155.7L483.3,157.7L485.3,161.7L486.3,165.7L486.2,171.7L483.8,179.1L479.8,185.6L473.2,193.7L471.5,197.7L471.7,209.7L469.9,223.7L471,233.7L468,245.7L465.6,249.7L461.5,253.7L450.2,261.7L435.8,273.4L425.5,279.7L417.8,285.1L411.9,287.7L407.8,288.5L403.8,288.7L399.8,288L396,285.7L393.8,283.7L390.9,279.7L390.2,277.7L390.3,273.7L392.7,261.7L393.1,255.7L392,249.7L389,239.7L388.5,231.7L389.7,223.7L392.3,215.7L398.1,203.7L403.2,191.7L410.9,181.7L417.7,167.7L420.8,163.7L423.8,161.7L429.8,159.2L437.8,157.6L447.8,156.8L460.4,151.7M373.7,167.7L375.8,167.8L377.8,168.8L378.5,169.7L378.6,171.7L377,173.7L371.8,178.7L368.9,183.7L366.7,191.7L363.9,205.7L363.6,209.7L363.8,213.7L364.8,217.7L370.2,231.7L370.9,235.7L370.7,237.7L366.5,247.7L359.7,259.7L359.3,263.7L361,271.7L360.5,275.7L359.5,277.7L357.8,279.9L353.3,283.7L346.8,287.7L339.8,290.7L333.8,291.7L321.8,292.2L307.8,291.3L303.8,292.4L301.8,294.9L299,305.7L294.3,317.7L285.8,334.6L275.2,349.7L273.6,353.7L270.1,365.7L267.8,369.8L265.8,371.9L261.8,374.6L249.8,378.2L243.8,378.2L239.8,376.9L235.8,374.8L233.8,372.7L231.8,368.9L230.5,361.7L230.9,357.7L233.2,351.7L234.1,347.7L232.8,331.7L232.6,313.7L231.7,299.7L231.9,293.7L232.7,289.7L234.3,285.7L236.8,281.7L247,269.7L250.8,263.7L253.9,255.7L258.7,237.7L261.4,231.7L263.8,227.7L267.3,223.7L269.8,221.8L282,215.7L284.5,213.7L286,211.7L287.9,205.7L289.7,189.7L291.5,185.7L293.8,183.2L297.8,180.7L305.8,178.2L359.8,170.9L373.7,167.7M85.8,263.3L95.8,268.3L97.8,269.7L99.8,273L101.8,283.7L102.7,291.7L103.1,309.7L101.8,330.2L100,333.7L96.2,337.7L93.3,341.7L89.5,349.7L87.2,359.7L85.8,375.1M316.9,485.7L313.8,483.4L309.8,479.5L307.4,475.7L306,471.7L304.7,465.7L304.4,459.7L305.2,451.7L306.3,445.7L307.8,441.7L309.8,438.6L312.9,435.7L315.8,433.9L323.8,430.9L333.8,429.5L338,429.7L343.7,431.7L355.8,439.1L371.5,447.7L374.3,449.7L375.7,451.7L375.6,453.7L371.8,464.2L363.8,479.6L359.9,485.7M456.9,167.7L459.8,166.3L461.8,165.9L465.8,166.7L467.2,167.7L468.6,169.7L469.2,173.7L467.8,177.7L466.4,179.7L457.8,187.6L456.7,189.7L456.3,191.7L456.7,195.7L460.5,207.7L461.1,211.7L459.1,229.7L458.7,239.7L456.8,245.7L455.5,247.7L451.7,251.7L439.8,261.9L433.8,265.9L427.8,268L417.8,269.6L407.8,275.3L403.8,275.8L401.8,275L399.8,272.9L398.9,269.7L398.6,261.7L396.5,249.7L396.4,241.7L399,221.7L401,215.7L404.7,207.7L409.8,199.5L419.8,190.1L427.8,178.7L432.8,173.7L437.8,171.2L449.8,171.9L451.8,171.3L456.9,167.7M317.6,185.7L321.8,185.3L327.8,185.4L333.8,186.1L339.8,187.5L343.8,189.4L345.8,190.9L347.8,193.2L349,195.7L349.9,199.7L350.2,203.7L349.7,217.7L350.2,219.7L354.4,227.7L354.7,229.7L354,233.7L350.1,241.7L349.2,247.7L346.6,255.7L346.2,257.7L346.7,267.7L345.2,273.7L342.8,277.7L341,279.7L337.8,282.3L333.8,284.1L327.8,285.4L321.8,285.9L309.8,284.8L305.8,284.9L301.8,285.9L299.8,287.1L297.8,289.4L296.9,291.7L295.1,305.7L293.2,311.7L289.8,319.3L284.6,329.7L281.8,334.1L272.5,343.7L269.4,347.7L263.8,360.5L261.8,363.1L259.8,364.7L255.8,366.5L249.8,366.9L245.8,365.9L242.7,363.7L241.3,361.7L240.7,359.7L241.7,349.7L239.1,331.7L238.1,313.7L236.6,299.7L236.8,293.7L237.8,289.7L241.4,283.7L252.3,271.7L256.3,265.7L259.1,257.7L263.2,239.7L265.6,233.7L268,229.7L269.8,227.6L273.8,224.4L277.8,222.5L286.2,219.7L289.8,217.3L292.5,211.7L295.5,197.7L297.9,193.7L299.8,192.3L310.6,187.7L317.6,185.7M85.8,273.3L89.8,275.9L91.6,277.7L92.7,279.7L93.9,283.7L94.3,289.7L93.2,299.7L89.4,311.7L89.6,319.7L89.2,323.7L85.8,333.1M434.3,191.7L437.8,190.9L439.8,191.3L441.8,192.6L443.8,195.1L445.8,198.7L449.2,207.7L450,211.7L450.1,217.7L448.1,233.7L446.8,239.7L445.1,243.7L441.1,249.7L436.1,255.7L431.8,259L427.8,260.7L421.8,261.8L413.8,262L409.8,261.2L407.8,260.1L405.5,257.7L403.4,253.7L402.3,249.7L404.4,229.7L406.1,221.7L409.8,213.5L415.8,205.2L419.8,201.4L425.8,196.9L434.3,191.7M314.1,203.7L317.8,202.2L319.8,202L321.8,202.5L323.8,203.7L325.8,206.6L326.7,209.7L327.9,223.7L328.7,227.7L329.6,229.7L333.8,235.8L337.2,243.7L340,253.7L340.3,257.7L339.8,259.7L337.8,263.8L333.8,269.9L330.7,273.7L327.8,275.9L321.8,278.1L307.8,278.6L303.8,279.3L299.8,280.8L296.2,283.7L294.9,285.7L293.5,289.7L292.4,301.7L290.3,309.7L287.8,315.4L279.9,329.7L277.8,332.2L273.8,335.1L259.8,342.1L258.3,343.7L257.8,344.9L258,349.7L256.7,353.7L255.8,354.9L253.8,356.1L251.8,355.9L249.8,353.6L248.8,349.7L248.9,345.7L250,339.7L249.9,337.7L246,323.7L242.5,303.7L242,297.7L243,291.7L246.5,285.7L259.8,271.9L262.4,267.7L264.3,261.7L267.7,241.7L269.9,235.7L272.2,231.7L274,229.7L277.8,227.2L281.8,226.1L287.8,225.4L292.2,223.7L295.8,220.4L299.8,213.3L303.8,208.8L305.8,207.5L314.1,203.7M429.5,207.7L431.8,207.5L433.8,208.3L435.9,211.7L436.9,225.7L435.9,233.7L432.5,245.7L429.8,250.6L427.8,252.2L425.8,253L421.8,253.6L419.8,253.4L416.6,251.7L415,249.7L414.3,247.7L411.8,233.7L412.1,227.7L413.6,223.7L415.8,219.7L419.8,214.5L425.1,209.7L429.5,207.7M301.6,229.7L303.8,229.6L307.8,231.3L311.8,233.9L314.8,237.7L322.7,253.7L323.3,259.7L322.2,263.7L319.8,267L317.8,268.4L301.8,272.7L295.8,275.4L293,277.7L291.5,279.7L290.1,283.7L288.9,299.7L288,305.7L286.4,309.7L283.8,314.3L277.8,323L273.8,326.7L269.8,328.1L265.8,328.1L263.8,327.7L259.9,325.7L257.6,323.7L254.6,319.7L251.9,313.7L249.8,307.2L248.7,301.7L248.6,297.7L249.8,292.3L251.1,289.7L254.1,285.7L257.8,281.9L265.2,275.7L268.7,271.7L269.8,269.7L271.5,263.7L272,251.7L272.8,245.7L275.3,237.7L277.8,233.8L279.8,232.4L281.8,232.1L289.8,233.4L301.6,229.7M293.2,243.7L295.8,243.1L297.6,243.7L298.9,245.7L299,247.7L297.8,251.8L295.9,255.7L293.8,257.3L291.8,258L288.6,257.7L285.8,255.7L284.7,253.7L284.2,251.7L284.8,249.7L285.8,248.6L289.8,247L290.7,245.7L293.2,243.7M265.5,285.7L271.8,284.1L279.8,284.2L281.8,285.4L283.8,288L284.4,289.7L284.8,291.7L284.2,301.7L283.1,305.7L281.8,307.8L277.8,312.1L275.8,313.7L271.8,315.2L269.8,315.1L267.8,314.4L263.8,310.9L259.8,305.3L257.6,299.7L257.8,295.7L259.7,291.7L262.8,287.7L265.5,285.7"/>
<path class="cl ng" d="M181.8,155.2L169.8,159.9L165.8,162.5L161.8,166.9L159.2,171.7L156.5,179.7L154.5,187.7L153.4,195.7L154,203.7L158.5,221.7L163.8,233.7L171.3,245.7L172.9,249.7L172.5,253.7L170,263.7L169.9,277.7L166.1,287.7L165.5,293.7L167.1,299.7L169.8,303.4L173.9,307.7L174.7,309.7L175.3,313.7L176.8,315.7L177.8,316.2L179.8,316L183.8,312.4L186.6,311.7L186,301.7L188,287.7L189.4,281.7L193.8,267.7L193.7,261.7L191.7,251.7L191.4,247.7L192.1,243.7L195.6,231.7L197.8,229.5L199.8,229L207.8,229.8L211.8,228.7L215.8,225.3L217.5,221.7L217.7,219.7L217.5,211.7L216,199.7L215.1,195.7L214.2,193.7L212.6,191.7L205.8,185.8L201.8,180.9L199.1,175.7L195.5,165.7L189,155.7L187.8,154.4L185.8,154.1L181.8,155.2M469.8,327.4L459.8,332.8L443.8,337.8L403.8,347.2L389.8,348.4L383.8,349.7L380.1,351.7L378.2,353.7L377.6,355.7L378.2,363.7L377.8,367L377.2,367.7L379.8,368.2L385.8,368.2L409.8,366.3L435.8,366.3L453.8,368.4L457.8,368.1L459.8,367.3L471.9,359.7L476.6,355.7L478.1,353.7L479.9,349.7L482,341.7L485.6,335.7L485.8,333.7L485.5,331.7L484.5,329.7L481.8,327.3L479.8,326.4L475.8,325.7L473.8,325.9L469.8,327.4M365.8,355.1L363.9,355.7L365.8,357.4L366.4,355.7L365.8,355.1M335.8,357.6L333.8,358.4L325.8,363.4L323,365.7L321.7,367.7L321.7,371.7L323.8,375.3L326.7,377.7L331,379.7L335.8,380.5L347.8,379.9L359.8,381.3L363.5,379.7L366.5,377.7L371.7,373.7L375.8,369.7L375.4,367.7L371.8,366.2L368.3,363.7L366.4,361.7L365.8,360.4L363.8,359.8L359.8,360.9L355.8,360.9L343.8,357.8L339.8,357.4L335.8,357.6M189.8,144.2L187.8,146.1L165.8,153.5L161.8,155.8L157.5,159.7L153.8,165.7L144,189.7L142.8,193.7L142.2,199.7L142.6,207.7L144.6,219.7L146.5,225.7L153.7,243.7L155.5,251.7L155.3,257.7L152,289.7L152.5,297.7L154.3,305.7L157.8,313.7L161.8,319.1L165.8,323.3L177.8,332L181.8,333.8L183.8,334.1L185.8,333.5L187.9,331.7L190.1,323.7L193.2,315.7L193.6,311.7L192.6,297.7L193.2,289.7L194.7,283.7L198.9,271.7L202.9,257.7L205.8,251.9L213.8,242.6L219.8,232.7L222.5,225.7L223.4,217.7L223.1,209.7L222.1,199.7L220.3,191.7L217.8,188.2L209.7,181.7L205.8,177.3L204,173.7L199.8,161.7L189.8,144.2M493.8,325.4L489.8,322.8L481.8,319.9L477.8,317.5L475.8,316.8L473.8,316.7L467.8,318.7L451.8,327.1L441.8,330.8L435.8,332.4L419.8,335.5L403.8,337.7L381.8,337.6L373.8,338.3L365.8,339.8L349.8,344.4L335.8,346.8L331.8,348.1L327.8,350.3L321.8,355.4L317.8,359.6L315.3,363.7L313.7,367.7L312.6,373.7L313.6,377.7L315.8,380.5L319.8,383L325.8,385L333.8,386L359.8,385.1L365.8,383.7L379.8,378.2L389.8,376.3L407.8,375L437.8,374L449.8,374.3L457.8,373.5L461.8,372.3L481,363.7L487.5,359.7L493.8,354.1M185.8,139.1L167.8,144.9L161.8,147.3L154.4,151.7L149.8,156.2L147,161.7L142.6,175.7L135.2,191.7L129.8,211.7L128.7,221.7L129.2,231.7L133.3,249.7L134.4,261.7L138,273.7L141.8,296.8L143.8,305.9L146.4,313.7L149.4,319.7L153.8,326.3L159.8,333.8L163.8,337.9L167.8,340.8L175.8,343.6L181.8,346.4L183.8,346.3L185.8,345.6L187.8,344.1L189.8,341.3L192.4,335.7L197.1,317.7L197.4,293.7L197.9,289.7L199,285.7L204.8,269.7L207.8,262.8L211.3,257.7L218.4,249.7L221.8,242.9L226.2,229.7L227.6,219.7L227.3,209.7L226.4,199.7L225.2,193.7L223.7,189.7L219.8,184.1L212.9,177.7L209.8,174L206.8,165.7L201.8,154.8L197.7,147.7L195.2,141.7L193.8,139.7L191.8,138.3L189.8,138.1L185.8,139.1M493.8,310.9L489.8,308.8L479.8,302.4L475.8,301.9L471.8,303.8L461.8,313.4L455.8,317.3L443.8,322.9L433.8,326.1L419.8,328.9L405.8,330.2L397.8,330.1L381.8,328.3L373.8,328.5L365.8,330L343.8,336.2L329.8,339L325.8,340.8L321.8,343.9L311.8,355.9L309.5,359.7L306.8,365.7L305,371.7L304.5,375.7L304.7,379.7L305.8,383.2L307.8,385.7L309.8,386.9L313.8,388.3L321.3,389.7L327.8,390.4L333.8,390.5L347.8,389.6L363.8,387.9L377.8,384L385.8,382.7L397.8,382.1L435.8,381.6L445.8,380.9L467.8,375.2L483.8,371.6L493.8,368.5M189.8,129.1L188.3,131.7L185.8,133.2L173.8,135L167.8,136.9L159.8,140.3L147,147.7L142.3,151.7L141,153.7L139.6,157.7L137.3,171.7L121.8,207.1L120,213.7L118.7,231.7L120.4,249.7L122.6,265.7L123.8,270L129.9,279.7L132.4,285.7L134.2,293.7L137.6,315.7L139.7,321.7L143.5,329.7L145.7,335.7L148,343.7L149.6,351.7L150.5,359.7L150.2,365.7L149.5,369.7L146.1,379.7L145.9,383.7L147.8,387.4L151.8,391.6L155.8,394L159.8,394.9L163.8,394.4L167.8,393L177.8,387L185.8,383.6L189.8,380.1L193.8,373.7L194.7,369.7L192.3,357.7L192.3,353.7L193,349.7L196.4,339.7L198,331.7L201.1,319.7L202.2,293.7L203.3,287.7L207.3,275.7L210.7,267.7L213.8,263L222,253.7L225.4,247.7L228.8,237.7L231.1,225.7L231.5,217.7L230.8,203.7L229.5,195.7L227.6,189.7L223.8,182.5L218,173.7L214.1,163.7L209.8,157.3L206.2,149.7L202.5,143.7L195.8,130.9L193.8,128.8L191.8,128.2L189.8,129.1M493.8,293.5L489.8,291.8L481.8,287.1L477.8,286.6L474.2,287.7L471,289.7L467.8,292.7L458.6,305.7L453.8,310.3L448,313.7L441.8,316.6L433.8,319.5L427.8,321.1L417.8,322.8L405.8,323.2L397.8,322.5L381.8,319.8L373.8,319.7L363.8,321.4L339.8,327.7L327.8,329.4L321.8,331.4L317.8,334.4L313.8,339.1L307.8,348.9L304.3,355.7L301.8,361.8L299.3,369.7L298.3,375.7L297.6,383.7L297.8,387.7L298.4,389.7L299.7,391.7L301.8,392.9L304.5,393.7L309.8,394.3L329.8,395L347.8,393.8L359.8,391.7L367.8,391.1L377.8,388.7L381.8,388.2L389.8,388.3L407.8,389.4L419.8,389.2L431.8,390.1L441.8,389.9L447.8,388.8L451.8,387L457.8,383.4L461.8,381.9L493.8,380.1M189.8,119.4L188.9,123.7L187.8,125.9L183.8,127L173.8,126.8L165.8,129.2L159.8,132.1L151,137.7L141.8,142.7L137.9,145.7L136,147.7L133.6,151.7L132.3,155.7L129.7,171.7L121.7,191.7L116.2,203.7L114.6,209.7L113.8,215.7L112.7,229.7L112.8,239.7L114,249.7L117.3,267.7L119.5,273.7L124.6,281.7L126.6,285.7L128,289.7L129,295.7L130.6,335.7L130.6,359.7L131.3,365.7L133.8,371.8L135.2,377.7L136.8,381.7L141.9,389.7L146.3,399.7L148.2,401.7L151.8,403.9L155.8,405.3L159.8,406L163.8,405.8L169.8,404L189.8,394.2L191.8,392.5L193.8,389.9L197.8,381.8L200,375.7L200.9,369.7L200.8,365.7L199,351.7L205.9,319.7L207.1,295.7L208.3,287.7L211.2,277.7L214.6,269.7L217.4,265.7L225.8,256.3L229.6,249.7L232.8,239.7L235.1,225.7L235.4,217.7L234.4,199.7L232.5,191.7L226.7,177.7L224.8,167.7L214.7,151.7L202.8,127.7L198,121.7L195.8,120.2L191.8,119.1L189.8,119.4M493.8,276.7L487.8,277.3L479.8,277.1L475.8,278.1L471.8,280L466.6,283.7L462.5,287.7L459.3,291.7L453.8,300.1L448.4,305.7L439.8,310.6L433.8,313.2L427.8,315L417.8,316.8L407.8,317L399.8,316L381.8,312.1L373.8,311.8L365.8,313L349.8,316.5L329.8,319.8L323.8,321.4L319.8,323.2L313.8,327.6L309.8,332.4L305.8,339L299.8,351.7L297,359.7L294.9,367.7L291.3,389.7L291.8,394.6L293.7,397.7L295.8,398.9L299.8,399.8L329.8,399.6L341.8,399L377.8,394.3L381.8,394.2L393.8,396.6L415.8,403.7L421.8,404.4L427.8,403.8L435.8,400.7L439.8,399.8L451.8,400.2L455.8,398.7L463.8,393.4L467.8,392.1L475.8,391.8L493.8,393.6M195.8,113.7L177.8,115.6L165.8,120L157.8,124.1L137.8,136.5L133.7,139.7L130,143.7L127.4,147.7L125.6,151.7L120.8,171.7L112.1,193.7L110.3,201.7L107.7,219.7L106.6,237.7L107.5,245.7L114.5,271.7L116.2,275.7L122.5,287.7L123.7,291.7L124.2,295.7L124.2,301.7L122.5,321.7L117.9,353.7L117.8,369.7L118.4,373.7L121.8,384.8L123.8,389.3L125.8,391.7L132.8,395.7L137.8,403.7L141.8,408.1L147.8,411.6L155.8,413.6L159.8,413.7L165.8,412.9L171.8,411L177.8,408.1L184.6,403.7L192.7,399.7L195.7,397.7L198.6,393.7L200.6,389.7L204.2,379.7L205.9,371.7L206.3,365.7L206,349.7L211.1,319.7L211.9,311.7L212.3,295.7L214.3,283.7L216,277.7L218.6,271.7L229,259.7L233.7,251.7L237,241.7L239.6,225.7L240,219.7L239.5,199.7L237.4,191.7L232.8,179.7L233.3,169.7L232.7,165.7L230.7,161.7L225.8,155L218.2,139.7L216.6,133.7L215.3,123.7L213.8,119.3L212.4,117.7L209.8,115.9L205.8,114.3L201.8,113.5L195.8,113.7M493.8,261L487.8,265.2L475.8,270.4L465.8,276.6L458.3,283.7L449.6,295.7L445.8,300L439.8,304.2L429.8,308.6L423.8,310.2L417.8,311.1L407.8,311.3L395.8,309.2L379.8,304.9L373.8,304.6L351.8,309.5L337.8,311.2L325.8,313.5L319.8,315.4L315.8,317.7L309.8,323.2L304.9,329.7L301.8,335.2L295.8,348.8L292.7,357.7L287.8,380.9L283.8,394.1L281.8,397.6L280,399.7L271.3,407.7L269.5,411.7L269.8,414.2L271.8,417L273.8,418.1L277.8,418.6L280.9,417.7L283.8,416L289.8,410.7L293.8,408.1L299.8,406.3L317.8,404.5L343.8,403.9L373.8,402.3L379.8,402.9L383.8,404.1L387.8,406.2L397.8,413.3L401.8,414.9L407.8,416.1L425.8,416.9L429.8,418.1L437.8,422.4L441.8,423.5L445.8,423.6L449.8,423L467.8,416.1L475.8,414.1L483.8,413.8L493.8,415"/>
</g>
<g id="coast">
<path class="coast" d="M390.8,175.7L390.3,177.7L391.1,179.2L391.1,181.2L391.3,182.7L391.3,184.5L392.2,186.1L392.8,187.9L392.9,189.6L392.3,190.6L390.8,191.2L390.1,192.1L389.8,193.8L391.0,195.9L389.2,196.4L387.1,196.5L387.6,197.9L387.1,199.6L387.4,201.6L386.6,203.8L384.9,203.9L383.8,204.9L383.5,207.3L382.8,209.5L383.8,210.7L384.0,211.8L382.7,212.7L381.4,213.3L380.2,214.5L378.7,215.6L377.3,216.3L376.7,217.5L375.7,218.5L374.1,218.5L373.2,217.5L371.3,217.7L370.0,217.2L368.6,217.0L367.5,217.6L365.9,219.1L365.6,221.6L366.0,222.8L366.2,224.5L366.0,226.5L363.8,225.6L361.6,224.7L361.6,226.7L361.6,228.7L361.6,230.9L360.1,232.5L358.3,233.9L357.5,235.2L356.5,235.9L354.7,236.7L352.6,236.9L350.9,237.0L350.6,239.1L350.3,240.5L351.6,241.5L351.3,243.4L349.8,244.5L349.0,246.1L347.8,247.4L348.1,249.3L348.2,251.2L349.3,252.9L350.4,254.6L350.9,255.7L351.3,256.8L351.0,258.4L349.2,259.4L348.0,260.8L346.4,261.5L344.7,263.2L342.9,264.8L340.5,265.1L339.5,263.9L338.4,262.8L337.3,261.8L335.7,261.0L334.1,260.3L332.6,260.8L331.5,261.5L330.7,262.8L329.9,264.0L328.4,263.4L326.8,262.9L325.1,262.6L323.3,262.3L322.0,261.9L320.7,261.6L320.1,260.7L319.5,259.8L318.8,258.9L317.8,258.4L316.8,257.9L315.7,257.4L314.4,257.4L313.1,257.4L312.0,257.2L310.8,257.0L309.7,256.9L308.7,256.5L307.8,256.2L306.8,256.0L305.8,255.8L305.3,255.1L304.7,254.5L304.1,253.9L303.5,253.3L303.3,251.9L303.0,250.4L302.8,248.6L302.6,246.7L302.0,245.4L301.3,244.2L300.3,243.4L299.2,242.6L298.0,241.8L299.3,240.2L300.7,238.6L302.3,237.3L304.0,236.0L305.5,234.8L306.3,233.2L305.9,231.7L306.7,230.0L307.5,228.1L308.8,227.6L308.1,225.7L308.9,224.6L309.4,222.7L310.0,221.8L310.7,220.6L312.1,218.6L312.0,216.3L313.4,215.7L313.1,213.9L314.8,212.8L315.5,211.1L316.7,211.1L318.4,210.7L318.4,209.6L318.8,208.3L320.6,206.7L320.7,205.0L321.3,204.0L322.6,202.5L323.4,201.2L322.4,199.3L323.0,197.6L323.4,196.4L324.0,195.2L326.1,195.9L328.1,196.6L330.2,197.4L329.2,195.6L328.2,193.8L328.2,191.7L329.8,190.9L331.8,190.1L333.9,189.7L336.1,189.4L337.2,189.7L338.9,189.8L340.5,188.9L341.8,190.3L343.4,190.4L344.5,190.2L346.1,189.8L347.3,190.2L348.8,190.2L350.4,189.2L351.3,188.5L352.4,187.6L354.9,187.5L357.4,187.5L359.5,188.1L361.5,188.8L363.0,189.0L364.1,188.9L365.3,188.0L366.6,189.0L368.7,188.1L370.7,187.9L371.0,186.2L373.0,186.4L374.8,186.2L375.1,185.3L375.6,183.6L377.5,183.3L378.9,182.6L380.4,181.1L380.8,179.9L382.0,178.3L384.5,178.1L385.8,176.9L386.8,176.0L388.1,176.0L389.2,175.6L390.8,175.7ZM337.6,164.5L336.4,164.1L335.6,162.9L335.0,161.6L333.6,161.4L332.3,160.5L330.6,159.8L329.3,159.6L327.2,160.2L325.0,160.0L323.8,160.8L322.2,161.9L320.2,161.8L317.8,162.4L317.6,164.3L318.0,165.8L317.1,167.2L318.5,168.2L318.6,170.2L320.0,171.2L320.8,172.8L321.4,173.7L322.7,174.4L322.8,172.5L324.6,172.4L326.9,172.9L329.1,173.5L330.8,172.3L332.1,171.4L333.0,173.2L332.4,174.8L332.5,176.4L333.5,177.1L335.3,175.6L336.8,175.0L338.2,174.0L336.2,172.8L334.2,171.7L336.4,171.2L338.4,170.8L337.0,168.9L335.5,166.9L337.9,166.7L337.6,164.5ZM220.5,226.5L220.9,228.6L222.3,229.8L224.0,230.1L225.4,231.7L225.3,232.9L225.3,234.7L225.5,236.3L226.8,237.3L228.0,237.8L228.8,238.8L229.5,241.2L230.3,243.6L231.1,244.4L230.8,246.4L231.5,247.4L231.4,249.1L231.6,250.9L231.7,252.7L232.0,254.5L231.8,256.5L231.8,258.5L230.7,258.7L229.4,258.2L229.5,256.4L230.3,254.6L228.4,254.1L228.1,252.2L227.8,250.3L227.5,248.3L226.4,246.3L225.3,244.3L224.3,243.1L223.4,241.6L222.2,240.1L221.0,239.0L220.2,237.8L218.9,236.3L217.4,234.7L215.8,233.9L215.2,233.1L213.6,232.9L211.5,231.6L212.4,229.8L213.3,228.0L214.9,227.1L216.4,226.3L216.8,227.7L218.5,227.7L220.5,226.5ZM308.9,85.0L306.9,85.5L306.3,86.6L305.0,87.4L304.4,89.6L302.4,90.0L300.6,89.7L299.3,90.4L298.2,92.4L299.9,91.5L301.0,93.2L302.5,92.7L304.3,93.3L306.1,93.5L306.6,94.6L305.3,95.4L304.2,96.5L302.5,96.9L302.5,98.4L302.3,99.6L304.3,99.2L304.1,100.9L303.7,101.8L302.5,101.9L300.3,101.6L298.7,102.0L298.6,104.1L298.5,105.1L299.4,105.9L300.2,107.8L299.2,109.9L301.2,109.7L302.5,109.1L304.3,109.2L304.5,110.8L304.3,112.3L303.1,113.3L303.5,115.4L304.5,114.1L306.1,112.5L305.3,114.8L305.5,116.1L304.7,117.2L305.5,118.7L306.8,119.9L306.2,121.3L305.1,122.8L306.3,124.6L305.1,125.9L304.2,126.5L303.3,127.8L302.6,129.3L301.1,128.8L299.6,128.2L298.3,128.9L297.3,129.1L298.2,127.4L299.3,126.8L300.2,125.5L300.9,123.5L299.2,123.3L298.3,124.3L296.6,124.6L294.8,124.2L294.3,122.6L295.2,121.1L296.6,120.1L296.4,118.6L297.3,117.1L298.8,115.6L296.5,115.5L295.1,114.4L295.1,112.7L294.0,111.7L293.5,110.2L292.9,108.1L292.2,107.4L290.5,106.5L289.6,105.4L290.0,103.9L289.0,102.8L288.8,101.2L288.4,100.2L288.7,98.6L287.7,99.4L286.5,98.8L285.2,99.2L284.5,97.9L283.7,97.1L284.3,95.9L284.1,94.4L285.0,93.3L285.7,92.6L287.0,91.7L284.7,91.2L284.6,89.9L286.0,88.5L288.3,87.7L290.2,87.2L292.0,87.7L293.7,88.0L294.6,87.5L296.1,87.0L297.6,86.8L299.4,87.7L301.2,86.2L301.8,85.2L303.6,86.1L305.3,86.4L306.5,85.0L307.2,84.3L308.9,85.0ZM311.1,113.6L309.6,112.3L309.5,111.1L308.1,111.4L307.1,112.1L307.8,110.2L306.1,109.4L306.0,107.8L306.2,106.5L307.7,105.9L308.1,104.2L308.4,102.2L307.5,100.5L308.4,99.1L309.8,98.0L310.0,96.6L311.3,95.0L312.5,95.4L313.6,96.5L314.6,95.2L316.4,95.3L318.7,94.5L320.6,94.3L321.4,94.7L322.6,96.3L322.9,97.9L320.9,98.8L320.2,100.2L319.0,102.1L317.5,102.9L319.3,103.4L320.5,104.5L320.4,106.3L320.1,108.1L319.3,109.1L317.3,108.1L315.4,108.4L315.4,110.5L314.0,111.3L313.9,112.7L312.7,113.4L311.1,113.6ZM284.5,83.8L283.9,84.9L283.9,86.3L283.9,87.5L282.9,89.2L280.9,89.8L279.8,90.9L278.7,91.2L277.4,91.5L276.1,92.9L276.2,94.3L275.3,95.8L274.8,97.0L273.9,98.5L274.4,100.0L272.7,100.0L272.0,102.0L270.5,101.9L269.6,103.2L267.7,103.0L267.2,104.2L265.4,103.3L264.5,105.0L262.9,104.8L262.6,106.4L261.6,106.5L262.6,108.5L262.8,109.7L263.6,111.5L264.6,111.9L264.6,113.9L265.6,114.9L267.0,116.3L267.5,117.8L266.3,119.5L266.4,121.2L266.1,122.2L264.9,123.4L262.9,123.7L261.9,125.9L260.4,126.9L260.3,125.3L260.3,123.1L261.0,122.1L260.1,120.5L258.3,120.3L259.3,120.1L260.0,118.4L260.2,116.9L260.6,115.2L260.3,113.8L261.1,112.5L259.7,111.6L259.0,109.6L257.3,108.9L256.1,110.2L256.3,108.0L254.1,108.4L252.6,109.8L251.6,111.4L250.0,111.9L249.2,112.7L248.3,111.6L247.4,110.5L245.6,109.8L245.2,111.8L244.0,112.5L242.9,112.3L241.1,113.0L240.4,114.4L238.8,116.1L237.0,117.3L235.3,117.8L233.5,117.3L233.7,116.1L232.3,116.2L230.9,117.3L230.0,118.4L230.6,119.9L230.2,121.9L228.5,122.9L229.0,125.0L230.8,126.0L229.9,127.7L230.8,128.7L231.3,130.2L231.7,131.1L231.9,133.1L231.2,134.4L229.5,134.8L229.0,136.4L228.1,134.6L226.2,133.9L223.9,134.4L223.3,136.7L224.6,137.5L224.8,139.0L225.4,140.5L225.6,141.5L227.0,140.9L228.7,141.8L229.0,143.1L229.7,144.1L228.4,145.3L227.4,146.6L226.4,147.4L226.6,149.3L224.7,148.7L223.5,149.8L222.3,149.6L221.0,150.4L219.8,150.6L221.2,151.7L220.7,153.6L219.4,153.6L217.6,154.4L216.0,155.3L218.2,156.2L219.3,154.9L221.4,156.1L222.7,154.8L224.4,153.9L224.9,152.8L226.3,152.1L227.7,151.0L228.3,150.3L228.9,148.6L230.2,148.5L231.0,147.5L232.2,146.7L233.9,147.1L235.1,148.5L237.0,149.6L238.3,150.5L238.9,152.3L239.7,153.5L239.7,155.3L240.5,156.7L240.5,158.0L242.4,159.7L243.0,160.6L242.4,162.6L241.9,163.6L241.1,164.8L240.2,165.4L239.9,166.5L239.0,168.5L239.0,170.8L237.7,172.5L238.8,173.8L239.7,174.9L241.6,175.1L243.3,173.8L245.0,172.6L244.8,170.7L245.2,169.3L244.8,168.0L244.7,166.8L244.3,165.3L245.2,163.8L245.5,162.8L246.6,161.5L247.3,161.0L247.0,159.5L247.5,157.8L247.8,156.4L248.6,155.3L249.5,153.5L248.6,151.8L248.3,149.4L247.8,147.1L247.4,145.7L245.8,145.1L243.6,144.8L242.9,144.0L241.9,142.7L243.5,142.0L243.0,139.6L243.3,137.4L243.7,136.3L244.7,135.3L243.6,134.2L242.9,133.3L243.5,132.0L244.3,131.2L244.4,129.4L244.6,128.0L244.2,126.9L243.5,125.5L243.4,124.5L243.9,122.7L244.9,122.2L246.6,120.9L247.4,119.5L247.8,118.4L247.8,117.4L249.6,117.1L251.3,116.5L251.8,117.5L252.8,119.4L253.7,120.8L253.0,122.5L254.0,123.2L255.3,123.4L255.3,125.1L256.3,126.0L256.9,127.4L258.5,128.8L259.5,130.6L259.9,132.1L260.1,133.6L259.9,135.5L261.3,137.3L262.2,137.8L261.7,136.5L262.2,134.7L262.9,134.0L263.9,132.9L264.3,131.3L265.8,129.5L266.8,128.7L268.3,128.4L269.6,127.8L270.3,126.8L271.2,127.7L272.4,128.9L274.2,129.4L274.9,131.4L274.3,133.1L275.6,134.1L276.0,135.4L276.8,136.6L276.8,138.4L276.0,139.9L277.1,141.4L276.8,143.8L277.5,145.9L276.5,148.0L274.8,149.7L274.5,151.9L272.4,152.5L271.7,154.1L270.5,155.3L268.2,156.2L266.2,155.3L267.5,156.1L267.5,157.8L266.8,159.4L266.1,161.6L266.1,163.7L264.6,165.0L264.9,166.4L264.3,168.6L264.5,170.7L263.9,171.7L263.3,172.9L262.6,174.6L262.2,175.7L262.3,177.7L261.1,179.6L261.4,181.3L260.9,182.2L260.2,184.1L259.1,185.3L258.4,187.2L257.8,189.3L256.6,190.3L256.0,192.0L255.0,193.5L254.2,194.3L253.0,195.4L252.2,196.7L251.1,198.4L250.1,200.1L248.5,201.2L247.4,200.7L245.5,200.5L244.5,200.5L242.9,200.9L240.9,200.9L241.2,198.9L241.0,197.5L239.3,197.9L238.1,199.2L236.7,199.8L234.9,199.0L233.3,199.3L232.2,199.6L230.2,199.8L228.2,200.1L225.9,200.0L223.5,200.0L221.5,200.3L219.9,200.2L219.2,199.1L217.3,198.9L216.3,197.8L215.8,195.9L215.4,194.6L216.5,193.6L217.0,191.9L218.6,191.6L219.3,190.8L220.8,190.5L221.6,189.7L223.6,189.1L225.7,188.6L226.4,187.6L228.6,187.8L230.2,188.5L228.4,188.0L227.7,186.5L226.5,186.3L224.2,186.8L222.8,185.2L222.1,183.7L221.6,182.5L220.4,181.7L219.7,180.7L218.2,180.6L216.0,180.3L214.2,180.7L212.6,181.2L213.1,183.7L214.1,185.7L216.0,185.5L217.2,185.5L215.2,185.5L213.8,186.3L212.4,186.9L210.7,187.5L211.2,189.7L212.7,190.7L214.5,192.1L213.3,193.1L214.0,194.5L213.4,197.0L212.2,197.4L210.6,198.3L208.9,198.5L210.6,199.3L210.9,200.4L211.2,201.8L212.9,202.4L214.4,202.8L215.1,204.8L216.8,206.6L219.2,206.8L217.5,207.0L216.5,208.4L214.9,208.3L213.1,208.9L212.1,207.2L211.8,205.7L210.6,203.8L208.7,204.7L207.6,206.9L208.6,207.9L209.0,209.4L209.3,210.9L208.4,211.9L209.1,213.5L209.2,215.0L208.9,216.1L208.7,218.2L208.6,220.4L207.5,221.8L205.9,220.7L204.8,220.5L204.1,218.2L203.7,220.0L204.1,221.5L203.7,223.5L203.3,225.4L201.9,226.6L200.6,227.9L201.8,229.7L201.3,231.4L203.6,232.1L204.9,234.0L204.4,235.1L202.9,235.7L202.1,236.8L201.6,237.9L199.9,238.5L197.8,239.0L197.4,240.3L195.7,241.8L194.6,242.5L192.7,242.7L194.0,244.8L195.1,244.0L196.4,244.1L197.9,243.5L199.1,243.8L201.1,244.6L202.4,245.2L203.8,245.4L205.0,244.9L206.7,245.0L207.8,247.1L208.6,248.6L209.9,249.9L211.1,250.4L211.7,251.4L213.3,252.8L213.9,254.1L215.1,254.9L213.7,255.1L213.1,256.4L211.9,255.9L210.4,256.8L208.8,255.6L206.5,254.9L204.7,254.6L203.4,253.6L201.6,254.1L199.7,255.1L198.3,254.8L196.7,253.3L195.7,251.9L194.6,251.1L193.3,250.7L191.1,251.2L189.9,252.1L189.2,249.9L187.4,249.9L186.0,250.0L184.5,248.3L184.4,246.5L182.7,245.5L183.1,243.6L183.6,241.7L182.4,243.4L181.3,245.1L180.7,247.0L179.9,248.6L180.9,250.2L183.2,250.8L184.4,250.5L185.8,250.8L185.4,252.4L186.5,253.6L185.4,255.8L184.4,257.9L186.1,259.3L187.5,258.3L188.5,257.5L190.0,257.0L191.0,255.8L192.9,254.5L195.0,253.7L196.3,253.9L197.4,254.5L198.7,254.6L199.9,255.2L201.9,256.6L204.2,256.8L206.0,256.5L205.8,257.9L206.2,259.0L207.9,259.9L210.0,260.0L207.8,260.4L206.5,260.4L205.6,261.7L205.9,263.2L207.1,263.7L206.7,265.9L204.8,267.1L202.9,268.3L201.3,267.8L200.0,267.6L199.6,268.7L198.7,270.1L196.5,270.6L194.3,270.0L194.6,271.2L196.6,271.7L198.4,272.5L199.5,272.0L200.8,271.1L202.2,270.7L203.1,269.9L205.1,268.5L206.1,269.5L207.5,268.4L208.8,268.0L210.7,268.6L211.9,268.4L212.2,270.8L212.5,273.1L212.6,274.8L212.7,276.5L214.3,277.4L215.6,277.2L217.5,277.4L218.6,278.7L219.8,280.0L220.6,281.6L221.4,283.2L222.3,284.7L222.9,286.4L223.5,288.1L224.4,289.7L225.4,291.3L226.8,292.2L228.1,293.1L228.8,294.5L230.4,294.4L231.5,295.3L232.7,295.6L231.7,297.7L232.1,299.8L229.9,299.9L230.0,301.9L230.2,303.9L229.6,305.6L229.1,307.4L227.4,308.1L226.1,308.9L224.8,308.8L222.9,308.7L220.7,307.9L218.5,307.0L216.7,306.2L214.9,305.4L213.5,305.1L212.0,304.1L212.9,305.3L214.4,305.9L214.9,307.4L216.7,307.6L217.4,309.5L218.2,311.4L218.1,313.6L219.0,315.9L219.8,318.1L219.1,318.9L218.4,320.5L220.3,321.6L222.2,322.6L224.1,323.5L224.5,324.9L224.9,326.3L225.6,327.4L226.5,328.5L226.3,330.4L226.3,332.2L225.0,333.3L225.4,335.1L224.0,335.5L222.8,335.6L221.3,335.3L220.1,337.4L219.7,339.6L220.7,340.7L220.2,342.3L220.8,341.3L222.0,340.6L223.3,342.4L225.0,341.1L226.1,342.3L227.2,343.3L228.0,345.2L228.9,347.1L230.4,347.8L231.9,348.4L233.5,346.5L235.3,345.6L237.7,345.0L238.6,346.1L239.6,347.1L240.8,349.2L242.1,351.2L243.6,352.9L245.3,354.5L247.0,356.1L245.8,358.1L245.5,359.5L246.7,361.4L248.8,362.5L250.9,363.5L253.0,364.7L255.1,365.8L256.0,368.0L256.9,370.2L256.8,371.7L256.7,373.2L257.5,373.6L259.1,374.1L261.2,374.7L263.2,375.3L265.3,375.8L267.3,376.3L268.6,376.8L269.8,375.4L271.4,374.8L272.7,375.2L272.4,376.9L273.1,378.0L274.1,380.2L273.2,380.6L271.7,381.2L273.6,380.5L274.3,379.7L275.6,378.9L276.5,377.9L277.5,377.1L278.7,378.3L280.0,377.4L281.7,376.8L282.6,377.6L284.6,379.0L286.7,380.3L287.9,381.8L289.3,382.3L291.1,383.5L292.9,384.6L294.8,386.0L296.7,387.4L297.4,389.4L299.7,389.6L302.2,390.1L303.5,390.6L304.7,390.5L305.1,391.3L306.8,392.2L308.1,393.5L309.9,394.4L309.0,396.0L308.7,397.4L307.5,398.0L305.8,398.9L306.5,400.3L306.7,401.9L305.3,402.9L303.3,404.2L301.5,402.7L299.9,402.5L298.8,401.5L297.6,399.7L295.5,399.3L293.4,398.9L292.5,397.4L291.3,395.5L290.3,396.0L289.7,398.4L289.3,400.0L287.4,399.3L286.5,400.8L287.5,402.1L286.1,403.4L284.0,402.9L282.8,404.8L284.2,406.5L284.9,408.2L284.8,409.9L286.1,411.9L287.4,412.9L287.9,414.0L286.7,414.8L284.6,414.4L283.4,415.0L282.3,415.3L281.1,415.8L279.9,416.2L278.0,416.5L276.2,416.9L274.9,418.6L274.1,419.6L272.3,419.5L270.5,419.9L269.6,421.2L268.1,421.6L266.9,422.8L264.9,423.2L264.8,424.8L263.0,424.5L262.1,422.9L260.9,421.7L259.6,420.9L258.4,420.5L257.0,421.1L256.0,420.6L254.4,421.3L253.3,421.4L251.5,422.1L249.9,421.4L247.9,421.1L248.5,423.2L247.4,423.8L246.1,425.3L244.7,426.4L243.1,426.6L242.3,428.1L241.2,429.2L241.9,430.9L243.1,432.5L243.0,433.8L242.8,435.2L241.3,436.2L241.3,438.1L241.4,440.0L240.6,442.1L238.3,441.8L238.1,443.2L236.4,443.9L235.5,445.4L234.8,446.1L232.4,446.8L230.8,446.7L229.2,446.4L230.7,447.8L231.8,449.5L230.5,450.2L229.1,450.0L227.1,451.2L226.2,452.4L224.4,452.6L222.7,452.0L222.4,451.1L221.5,451.9L219.9,452.7L220.3,454.2L219.5,455.7L218.6,457.4L216.7,457.5L214.6,457.4L213.1,458.2L211.9,456.4L213.7,455.0L213.1,453.6L214.1,452.3L213.1,450.6L214.4,449.3L215.0,448.0L216.4,446.9L217.4,445.8L217.9,444.6L217.4,443.5L216.5,441.8L217.1,440.2L217.3,439.2L218.4,437.9L219.3,436.1L219.7,434.6L220.8,432.8L222.7,431.9L223.3,430.5L223.5,429.0L224.6,428.4L225.9,428.0L225.8,426.5L227.9,425.3L229.4,425.0L230.2,424.2L232.2,423.7L232.8,424.5L233.4,422.9L233.8,421.3L236.1,420.3L237.7,421.5L237.6,419.2L239.2,417.7L241.5,417.9L243.6,417.6L246.0,417.3L246.9,415.5L248.9,415.5L250.2,413.3L252.2,412.0L252.6,410.6L253.7,409.6L251.5,409.4L250.5,408.2L250.2,410.2L249.4,410.7L248.2,411.7L246.8,412.4L244.7,413.2L243.2,413.6L241.3,414.7L240.9,413.0L240.7,411.9L241.1,410.4L242.1,409.6L239.9,408.4L238.2,407.6L236.7,407.6L235.6,409.0L234.2,408.6L233.2,410.2L231.5,411.3L229.8,411.6L228.5,411.6L227.7,413.1L226.7,414.1L225.6,414.7L223.8,415.1L222.4,415.5L221.2,414.8L219.9,414.2L218.8,413.8L217.8,413.2L216.3,412.8L215.9,411.4L214.8,410.2L213.7,409.5L213.4,407.6L211.7,405.8L209.8,406.0L208.5,406.0L207.4,406.7L206.7,405.4L206.3,404.3L204.0,403.8L203.0,402.2L201.7,401.4L199.8,400.0L198.2,401.4L196.7,399.8L195.4,401.0L193.8,400.9L192.0,402.1L189.7,402.1L187.6,400.8L186.5,402.7L184.9,403.2L183.8,402.5L182.3,403.8L180.7,404.1L179.2,404.7L177.9,404.1L176.0,403.5L174.9,403.7L174.2,404.7L173.2,405.9L171.6,406.2L170.5,404.3L169.1,403.3L167.9,403.9L167.6,405.5L168.2,407.4L168.6,409.2L169.4,409.8L168.9,411.5L169.2,413.2L171.6,412.5L172.6,412.7L174.3,413.5L173.6,415.0L174.6,416.1L176.0,417.7L176.7,419.6L176.4,422.1L175.7,422.3L174.0,422.8L172.1,422.6L172.0,424.6L172.0,426.1L171.7,428.5L169.7,429.4L167.6,429.9L167.3,431.0L165.7,432.4L164.4,433.7L163.0,434.4M167.0,437.7L167.5,435.9L167.8,433.5L169.4,433.7L171.3,432.8L171.9,431.7L172.6,430.6L174.4,430.4L173.8,428.0L173.2,426.8L172.9,424.5L174.3,424.3L175.6,424.0L176.7,423.0L178.2,422.8L179.4,421.7L180.7,420.6L181.9,420.2L183.2,420.0L182.6,421.9L181.6,424.1L180.2,425.3L180.2,426.7L179.2,428.9L177.8,430.5L178.5,432.4L177.3,434.0L175.2,433.8L175.0,435.9L174.9,437.4L173.6,439.3L172.5,440.9L173.1,442.3M257.1,116.9L255.9,118.5L254.9,119.4L253.6,118.8L252.8,117.8L252.4,116.0L253.4,115.0L254.0,113.7L253.4,112.3L254.4,113.8L256.0,114.4L256.6,115.0L257.1,116.9ZM260.6,115.2L259.0,114.8L258.0,115.6L257.3,113.7L259.3,112.8L259.7,113.9L260.6,115.2ZM239.1,128.5L238.4,130.1L238.1,131.0L239.2,132.1L239.0,133.4L238.0,133.8L238.2,132.0L238.0,130.5L239.1,128.5ZM242.8,123.0L242.4,124.3L243.0,126.4L243.0,128.9L242.5,129.0L243.0,127.8L243.0,126.4L243.0,125.1L242.3,123.7L242.8,123.0ZM231.8,138.3L231.7,140.0L230.3,140.6L229.2,141.0L229.1,139.4L229.9,138.5L230.8,137.0L231.8,138.3ZM232.5,141.3L231.7,142.7L230.3,142.2L230.9,140.9L232.5,141.3ZM217.1,156.2L215.5,156.2L214.3,156.4L211.9,156.3L210.8,157.8L211.7,159.4L212.8,160.8L212.3,162.7L214.4,163.7L216.3,163.9L218.6,163.5L219.4,162.5L219.6,160.5L219.0,159.8L217.6,158.9L216.1,157.9L217.1,156.2ZM210.8,164.9L209.4,165.3L207.5,166.5L207.4,168.3L207.7,170.1L209.4,171.1L211.6,172.3L213.2,172.2L214.7,172.6L213.2,171.5L212.9,170.3L211.5,169.3L211.2,168.0L211.6,166.8L210.8,164.9ZM452.0,395.1L449.9,396.5L448.2,396.7L447.1,397.2L446.3,398.6L444.5,398.1L442.2,397.3L440.9,397.1L439.6,396.6L437.7,396.6L436.2,397.0L435.1,396.0L433.5,395.9L431.9,395.9L430.2,394.2L429.2,395.3L427.4,395.0L426.4,395.5L424.8,395.8L422.8,396.0L421.4,394.0L419.9,395.6L418.9,394.6L417.4,394.6L416.2,393.7L414.8,394.1L413.2,395.0L412.5,396.1L410.4,397.1L408.2,396.4L406.9,396.4L405.8,395.7L404.6,395.7L402.9,395.1L401.8,394.5L400.2,394.0L398.5,394.7L397.0,393.8L395.7,393.3L393.4,392.4L392.0,393.1L390.0,393.0L388.5,394.6L386.9,393.4L385.1,393.3L383.7,393.7L382.3,393.0L381.2,393.1L379.8,395.0L378.7,396.0L377.3,396.9L377.2,398.9L374.8,398.8L373.3,398.7L371.4,399.3L370.2,398.9L368.2,398.4L366.8,398.2L365.6,399.4L363.9,400.6L365.5,401.5L365.8,403.6L364.7,405.5L363.6,407.4L361.9,408.3L362.1,410.0L361.4,410.7L360.6,412.6L359.2,411.6L358.5,410.0L357.5,409.1L357.9,407.7L357.9,406.5L357.9,405.5L358.1,403.5L359.0,401.9L358.6,403.4L357.3,403.9L356.2,405.5L356.4,407.3L357.4,409.5L356.9,411.5L356.7,413.4L355.8,414.5L355.4,416.5L356.4,417.5L356.4,418.7L355.4,421.0L355.5,423.1L354.8,424.5L354.1,426.4L353.4,428.6L352.9,430.4L351.8,432.1L350.5,433.1L350.1,435.6L350.3,436.8L350.2,438.7L348.7,439.9L346.9,439.5L345.5,440.0L344.6,441.7L343.2,442.5L342.2,443.9L341.0,444.9L339.1,444.7L338.2,446.2L336.6,446.0L335.3,447.1L336.9,446.0L337.7,444.5L339.4,443.6L340.0,441.9L341.5,441.5L342.4,439.8L343.1,437.9L344.7,437.6L346.4,436.8L346.7,434.7L347.0,432.6L348.6,431.7L349.8,430.0L349.6,428.3L349.8,427.3L348.6,425.7L348.7,423.7L347.5,421.6L346.0,421.6L344.8,422.2L342.9,423.6L341.1,423.6L340.0,424.2L338.7,424.7L337.5,424.9L336.3,425.8L336.3,423.6L335.0,421.9L333.5,421.2L333.0,419.9L331.4,418.2L330.4,419.9L329.4,419.3L327.7,419.8L327.3,417.9L325.8,417.2L324.7,417.0L323.4,416.3L322.5,414.4L323.2,412.0L324.6,411.0L323.7,409.5L324.7,407.9L325.1,405.9L326.5,404.5L327.7,403.1L329.4,402.6L330.9,402.0L330.1,399.7L329.3,397.3L327.2,398.0L325.2,398.6L323.9,398.8L322.7,399.3L321.6,398.8L320.3,400.0L318.6,398.5L318.2,397.0L315.8,396.5L313.5,396.0L314.9,394.2L316.0,392.4L317.2,391.9L318.2,390.8L320.0,390.8L320.3,389.2L320.8,390.4L321.5,391.4L323.5,390.3L325.4,389.2L324.1,388.3L323.4,386.2L321.6,386.4L320.1,386.7L318.3,386.1L317.9,384.3L315.7,383.2L313.5,382.1L314.5,380.5L313.7,379.3L315.8,378.5L317.9,377.6L318.6,376.0L317.7,374.1L318.1,372.7L318.4,370.8L319.7,369.4L320.9,367.9L322.2,367.0L323.6,366.1L323.7,364.1L324.7,363.0L326.3,362.6L327.5,363.1L329.9,362.6L332.3,362.0L334.1,362.0L335.9,361.9L337.5,361.4L339.1,360.9L340.2,360.7L341.6,360.3L342.8,360.4L344.2,359.6L345.4,358.4L346.6,357.2L348.6,357.1L350.6,356.9L352.0,355.9L353.4,354.9L355.7,354.9L358.1,354.9L359.1,354.1L359.8,352.9L359.5,351.7L359.9,349.4L361.1,348.1L361.4,346.1L361.7,344.1L362.7,342.8L363.7,341.4L362.4,340.2L362.6,338.5L364.9,338.2L366.3,337.8L367.5,338.2L369.6,338.5L368.9,337.1L368.2,335.4L370.0,335.7L372.0,334.9L372.1,333.7L373.4,332.7L373.7,331.7L374.7,330.5L376.2,330.1L376.8,328.7L377.5,327.8L378.9,326.9L380.8,325.8L382.7,324.7L384.5,325.3L385.8,326.2L386.3,324.6L387.2,323.7L388.2,322.8L388.5,321.3L388.7,319.4L388.9,317.4L390.4,316.0L392.0,314.6L393.1,315.1L395.2,315.6L393.6,315.1L393.1,313.9L391.1,312.3L390.7,310.3L390.2,308.2L390.5,307.2L391.9,305.8L392.8,304.7L393.4,303.3L394.1,302.2L394.0,300.6L394.2,298.9L394.4,297.9L392.6,297.1L392.3,295.7L392.8,293.9L393.2,292.1L395.0,292.7L395.9,292.7L397.7,291.6L396.2,290.7L395.1,290.3L393.8,289.4L392.1,288.4L390.1,288.0L388.2,289.2L387.0,289.8L385.3,290.2L384.4,292.0L383.2,290.5L382.4,290.1L380.6,291.5L378.6,290.6L376.2,290.9L375.4,288.7L375.0,287.9L376.3,288.9L377.7,288.5L378.4,286.8L380.0,286.0L381.3,285.6L382.8,285.2L384.9,284.5L386.0,284.1L387.4,283.8L389.3,283.1L389.9,282.1L391.3,281.2L389.9,280.8L388.9,279.5L390.3,278.4L392.0,277.0L393.8,277.2L394.7,276.6L396.2,275.2L397.0,273.7L395.3,272.2L393.1,273.2L392.2,273.4L390.5,272.3L389.2,272.2L387.6,271.9L385.6,272.8L385.6,270.7L385.6,268.5L386.7,266.3L388.0,265.8L389.2,266.3L389.6,264.7L391.6,264.4L393.7,264.8L396.0,265.2L397.3,265.9L399.8,265.7L400.7,266.4L402.3,267.3L402.5,269.3L402.7,271.3L402.5,273.2L402.0,274.7L403.2,273.6L404.4,273.1L405.8,273.1L407.2,274.0L408.4,275.0L409.4,274.5L410.3,273.1L412.2,272.4L411.8,274.7L411.9,276.3L413.5,276.9L414.6,279.0L415.6,281.2L416.5,282.7L416.5,284.5L418.4,285.0L417.8,287.3L420.1,287.5L421.9,288.1L423.6,287.9L424.7,288.2L425.8,289.3L426.2,290.9L428.3,290.6L429.3,291.0L431.1,291.4L432.7,290.2L433.7,291.7L434.2,293.1L435.8,292.1L437.8,291.6L439.5,290.7L440.4,292.3L440.4,290.6L441.1,289.2L443.2,288.7L444.5,289.3L445.5,289.9L447.2,288.6L448.8,288.7L449.9,288.2L449.9,286.7L450.0,284.7L450.0,283.0L450.0,281.2L450.8,280.2L451.6,278.4L451.6,277.0L453.0,275.5L454.3,274.1L455.1,272.8L455.7,271.0L457.0,270.1L457.8,268.4L458.2,266.4L459.3,265.5L460.1,264.1L458.3,262.4L457.4,260.7L456.6,259.9L458.3,258.3L459.5,257.6L460.9,257.6L462.5,256.4L463.9,256.7L465.5,255.9L467.0,256.3L469.2,256.9L469.4,255.8L469.9,254.4L471.1,253.1L472.3,252.7L473.8,252.0L475.3,250.3L477.2,249.7L476.4,248.1L476.7,246.5L474.7,247.1L473.6,247.6L472.7,245.5L471.4,245.6L469.9,245.8L468.5,246.6L467.3,245.6L465.9,245.5L465.0,247.0L463.3,246.6L462.4,247.6L461.2,249.7L459.1,249.7L459.7,248.4L458.4,247.0L456.4,247.2L455.4,246.1L453.8,244.7L452.1,244.1L451.1,242.8L449.8,242.6L448.2,243.6L445.9,243.2L445.6,245.3L444.1,244.7L443.1,244.3L443.4,245.8L442.0,246.9L440.5,246.3L438.7,248.1L437.8,249.6L436.8,251.2L435.9,249.4L434.0,248.6L432.6,249.5L431.2,249.7L430.0,249.7L428.5,250.4L427.3,248.5L427.5,250.7L426.6,252.0L424.8,252.8L422.9,253.4L421.7,253.9L420.2,253.4L421.4,251.7L419.8,250.5L419.2,249.1L419.3,247.6L419.2,245.2L419.0,242.8L419.9,240.9L420.4,238.6L420.7,236.9L422.4,236.7L421.3,234.9L421.2,233.2L422.5,232.6L424.3,233.3L425.7,232.3L425.5,230.3L427.1,230.0L428.3,229.7L430.3,228.5L430.4,226.7L431.0,225.3L433.1,224.5L432.2,223.3L431.6,222.2L430.4,220.9L428.7,221.3L427.7,219.6L425.8,220.3L423.9,219.9L422.9,218.8L421.6,217.7L420.2,218.3L419.1,219.8L420.6,218.4L420.9,216.8L422.3,216.3L421.7,214.0L421.8,212.0L423.8,211.2L425.7,211.7L426.6,210.6L428.0,210.0L427.8,208.2L428.9,206.9L429.8,206.4L431.4,205.8L432.3,204.7L432.8,203.3L432.7,201.9L433.9,201.0L434.6,199.0L435.6,197.5L435.2,196.0L435.8,194.9L436.1,192.7L435.8,190.9L435.7,189.7L437.3,188.1L437.7,186.0L438.8,185.0L439.7,184.0L437.6,183.3L437.6,181.1L439.6,179.8L441.2,181.0L442.1,179.2L441.6,177.7L443.1,177.6L443.6,175.9L445.6,174.9L447.3,176.6L448.5,177.9L449.6,179.1L450.0,181.1L452.2,181.4L453.3,182.6L454.8,182.0L456.0,182.9L457.9,182.7L458.9,183.3L460.3,184.0L460.9,186.1L462.8,186.7L462.7,189.0L464.7,190.1L464.1,192.1L464.7,193.2L465.4,195.3L466.8,196.5L467.4,197.6L467.4,199.1L468.4,201.3L469.4,202.9L471.2,202.0L471.9,203.1L473.6,203.0M458.4,175.1L456.6,175.1L454.5,175.9L452.4,176.3L450.1,176.0L447.6,175.8L445.7,175.8L445.0,174.2L447.4,174.3L449.5,173.2L451.5,171.8L453.4,171.3L453.0,169.9L453.4,168.4M468.0,195.9L467.9,193.6L467.6,192.5L466.2,191.0L466.5,189.8L466.5,188.1L466.7,186.1M387.6,227.8L389.1,227.3L391.1,227.6L392.4,228.1L394.3,227.7L396.3,227.9L397.4,228.5L397.2,229.9L397.0,231.0L395.7,232.3L396.5,233.5L396.2,235.1L395.0,236.3L393.6,237.5L393.5,239.1L394.4,237.1L396.1,236.8L398.5,236.0L398.3,233.8L399.0,231.9L399.1,230.4L400.1,229.5L401.3,228.3L402.0,227.7L404.1,227.8L404.6,226.2L405.9,226.1L406.9,224.9L408.7,225.5L408.7,226.7L408.5,228.1L408.6,229.8L408.3,230.7L407.4,231.4L407.1,233.0L407.0,234.8L406.7,233.5L407.8,232.4L410.2,232.3L410.1,230.4L411.1,229.5L412.2,227.8L412.9,226.2L414.3,227.8L413.1,229.9L413.6,231.6L413.3,233.6L412.4,235.2L411.9,237.2L411.0,238.6L410.5,240.7L410.4,242.5L409.0,243.5L407.5,244.1L407.5,246.2L408.4,247.4L408.2,248.8L408.5,250.0L408.9,251.4L408.9,253.6L408.9,255.8L410.9,255.4L409.7,254.1L408.0,253.8L406.9,252.6L405.1,252.3L403.8,250.5L402.6,248.7L401.5,248.0L399.8,248.2L397.5,249.1L396.1,248.4L394.8,248.9L392.5,249.6L390.2,250.3L389.0,251.7L389.2,252.9L388.8,254.5L387.6,256.7L386.3,258.8L385.3,260.6L384.7,262.0L383.1,262.1L383.9,264.0L383.6,265.0L383.8,266.3L384.0,267.9L384.3,270.0L384.5,272.0L384.0,273.7L382.8,274.7L382.7,276.3L382.5,277.9L380.2,278.7L379.1,280.4L377.5,281.5L377.1,283.2L375.6,281.7L374.2,281.6L372.8,281.2L371.0,280.7L368.9,280.5L367.2,279.8L367.0,278.5L366.6,276.5L366.2,274.5L366.3,272.4L366.3,270.4L368.0,268.7L369.6,268.6L371.7,267.4L370.4,265.8L369.1,264.2L369.0,262.8L368.9,261.3L370.1,260.3L371.1,260.0L371.8,259.0L373.1,258.0L373.6,256.8L373.6,255.4L374.9,254.2L374.0,252.9L375.6,252.3L376.5,251.4L376.5,249.5L376.8,247.9L377.0,246.7L378.1,244.9L380.0,243.6L381.4,243.3L383.0,242.3L383.8,240.1L383.7,238.4L384.6,237.2L384.5,235.9L385.4,234.3L385.7,232.1L385.9,229.8L386.9,228.9L387.6,227.8ZM407.0,275.0L405.8,273.1L404.7,271.1L406.8,270.1L407.5,268.8L409.2,267.9L409.2,266.5L410.5,265.8L410.9,264.1L412.5,262.5L413.5,261.6L413.8,260.4L414.8,261.5L415.7,262.1L416.8,263.3L417.9,264.6L418.7,266.5L418.2,268.8L417.7,271.1L416.4,271.1L415.4,272.2L414.7,273.2L414.4,274.6L413.0,274.4L411.3,272.7L409.7,273.9L408.7,275.3L407.0,275.0ZM361.1,268.5L360.3,269.8L359.1,270.2L357.0,270.5L355.8,271.2L355.4,272.5L354.2,273.3L353.6,274.4L353.8,276.3L353.9,278.2L354.0,280.1L353.8,281.8L353.5,283.4L352.7,285.1L351.8,286.7L353.2,287.9L354.9,286.6L356.6,285.1L358.3,283.6L360.3,283.6L362.1,283.7L362.5,282.1L362.8,280.3L363.1,278.6L363.0,276.9L362.9,275.2L362.7,273.5L362.2,271.8L361.7,270.2L361.1,268.5ZM354.0,269.8L352.8,268.9L351.7,267.9L350.6,268.6L349.2,269.6L348.1,267.6L346.2,267.8L344.6,267.4L342.3,268.2L341.0,267.6L339.8,267.7L338.4,266.8L337.0,266.0L335.5,265.3L333.9,265.1L332.9,264.9L331.5,265.2L330.2,264.7L328.2,264.3L326.3,264.0L323.9,264.0L321.5,264.1L320.9,265.4L320.2,266.8L320.2,267.9L320.1,268.9L320.0,270.0L320.4,270.8L320.8,271.6L321.2,272.4L321.5,273.2L322.2,273.9L322.8,274.7L323.4,275.5L324.0,276.3L325.0,277.2L325.9,278.2L326.7,279.2L327.5,280.1L328.4,281.0L329.1,281.9L330.4,281.4L331.8,280.8L332.6,279.3L334.4,279.6L335.7,278.4L337.1,277.0L338.5,277.0L339.8,277.7L340.9,279.2L342.4,278.4L343.5,279.8L344.6,279.1L346.3,279.2L347.4,277.6L348.5,276.0L349.7,277.3L350.9,278.7L352.1,280.1L352.7,278.2L353.2,276.4L353.6,274.4L353.8,272.9L353.9,271.4L354.0,269.8ZM344.8,278.3L344.9,279.7L344.9,281.2L343.3,281.4L342.5,282.6L341.4,282.8L340.0,283.9L338.3,284.6L336.6,285.3L334.3,285.5L333.2,285.8L331.9,284.6L330.5,283.4L332.2,282.3L333.9,281.2L335.1,280.1L336.5,280.0L338.0,279.3L339.1,278.6L340.6,277.8L341.9,277.6L343.3,277.0L344.8,278.3ZM366.5,281.9L365.5,283.5L364.5,285.1L365.6,286.9L366.7,288.6L368.5,288.4L369.0,289.1L371.0,289.1L372.4,287.9L373.4,287.7L375.0,287.2L373.4,285.6L371.8,284.1L370.2,283.9L369.8,282.4L368.4,282.4L366.5,281.9ZM366.0,290.6L365.4,292.6L364.9,294.5L366.3,296.2L367.7,297.9L368.7,299.3L370.2,299.2L372.1,298.0L373.1,296.6L374.6,296.6L375.6,295.4L377.1,295.1L376.0,293.9L374.6,293.2L373.9,292.2L372.2,291.4L370.3,290.7L368.8,290.5L367.3,290.2L366.0,290.6ZM388.0,300.4L388.0,301.7L388.7,303.2L388.9,304.7L389.3,306.1L388.3,308.4L387.4,310.6L386.3,312.7L385.9,315.1L385.4,317.4L384.8,319.8L383.0,320.1L382.2,321.6L380.5,321.3L379.6,323.3L378.7,324.8L377.1,324.0L375.6,324.5L374.6,324.6L373.4,323.3L371.8,322.5L370.6,323.7L369.1,324.5L368.1,324.7L366.2,323.8L365.5,322.8L365.0,321.4L364.2,320.4L363.7,319.1L363.4,317.8L362.7,316.2L361.1,315.2L361.6,313.4L362.9,312.0L364.2,310.5L365.5,308.9L365.5,306.7L365.5,304.5L366.6,303.4L367.6,302.2L370.1,302.5L372.3,303.4L373.7,302.5L375.2,301.8L376.5,301.2L378.1,300.1L379.0,299.4L380.6,299.7L381.8,299.4L383.2,299.5L384.8,299.8L386.1,300.6L388.0,300.4ZM364.6,330.1L363.1,329.6L361.9,330.7L360.9,331.6L359.3,331.1L358.1,329.5L357.4,328.2L355.7,327.7L354.8,326.0L353.9,324.6L353.1,323.6L351.3,323.0L352.0,321.1L352.6,319.2L354.4,317.6L356.1,316.0L358.3,315.6L359.6,316.5L361.3,316.3L362.2,318.3L363.0,320.4L363.7,322.0L364.5,322.9L364.8,323.8L365.8,325.4L365.3,327.8L364.6,330.1ZM358.1,300.3L356.6,300.2L355.0,300.3L353.0,300.7L351.3,302.0L349.7,303.2L348.8,304.4L348.0,305.7L347.1,306.9L347.9,309.2L348.7,311.4L350.7,311.0L351.3,311.5L352.6,311.2L354.0,311.4L355.9,310.2L357.8,308.9L357.8,307.0L357.8,305.2L357.7,303.4L357.9,301.9L358.1,300.3ZM357.7,290.2L356.9,290.4L354.9,291.3L353.1,291.7L352.1,292.3L352.7,294.1L353.3,296.0L355.3,295.0L356.4,296.4L357.8,295.8L358.8,294.1L359.9,292.4L359.0,291.0L357.7,290.2ZM348.1,309.3L346.6,308.7L345.1,309.9L343.1,309.9L342.1,310.5L342.5,311.8L343.1,313.2L343.9,314.3L343.9,316.0L345.6,315.4L347.4,314.8L348.5,313.3L349.5,311.9L348.8,310.6L348.1,309.3ZM346.6,290.3L344.5,291.3L342.3,292.2L340.2,293.0L339.9,294.3L339.5,295.6L340.7,295.3L342.1,295.3L343.6,295.6L344.6,295.0L345.7,293.7L346.7,292.4L346.6,291.3L346.6,290.3ZM440.7,401.2L442.9,401.7L444.7,402.4L446.0,401.4L447.6,401.0L447.9,399.5L449.1,398.8L450.4,398.2L450.4,396.5L450.7,395.0L449.1,394.2L448.1,395.3L446.6,395.7L445.5,396.8L443.9,398.2L443.3,399.9L442.1,400.1L440.7,401.2ZM334.4,448.4L336.3,446.9L338.3,446.7L337.4,448.0L336.4,448.9L334.4,448.4ZM331.1,452.5L330.3,453.2L329.8,454.7L328.1,456.4L330.2,455.4L330.7,453.4L331.1,452.5ZM326.5,456.2L325.6,458.0L324.0,459.9L326.0,458.5L326.5,456.2ZM321.0,461.0L319.7,461.8L318.1,463.1M313.4,464.3L311.0,464.4L310.8,466.1L308.8,466.5L307.1,465.5L305.5,466.8M302.4,468.1L300.7,468.1L299.2,469.4L297.9,469.3L295.9,469.0M287.6,471.2L285.6,470.6L284.4,470.1M281.2,467.9L280.7,466.9L279.4,465.5L278.0,465.8L276.4,465.5M268.6,462.6L267.0,461.7L265.6,461.2M247.4,445.5L248.6,446.5L249.1,448.6"/>
<path class="coast isl" d="M368.4,221.6L368.0,222.6L368.8,223.1L369.5,223.8L369.1,224.9L368.3,225.1L367.5,225.2L366.8,223.8L365.7,224.8L365.8,225.5L366.4,226.2L366.1,225.3L365.4,224.9L364.8,224.2L364.4,223.5L365.5,222.7L365.9,222.0L366.2,221.1L367.5,221.2L368.4,221.6ZM271.2,220.1L271.8,221.1L273.1,221.8L273.8,222.6L274.9,223.5L275.3,224.4L275.9,224.9L275.4,226.1L276.2,226.7L277.4,227.4L277.8,228.3L278.0,229.5L279.3,229.9L279.1,231.0L279.1,232.1L280.1,232.2L280.1,233.2L278.8,233.7L277.6,234.2L276.9,234.9L276.2,235.6L275.2,235.1L274.2,234.7L273.7,233.9L274.0,232.7L273.0,232.3L272.1,231.3L270.9,230.8L269.7,230.2L268.9,229.1L269.6,228.3L270.0,227.5L270.4,226.9L270.0,226.0L270.4,224.8L271.0,223.7L271.7,222.9L271.1,221.6L271.3,220.8L271.2,220.1ZM274.9,237.0L274.3,237.7L273.7,238.4L272.7,239.0L271.7,239.7L270.5,239.5L269.2,239.4L268.0,239.3L268.1,238.3L268.0,237.5L267.7,236.7L268.0,235.6L268.6,234.9L269.3,234.7L269.8,234.2L270.7,233.9L271.2,234.2L272.2,234.1L273.6,234.4L274.5,234.9L274.6,235.6L274.9,237.0ZM269.2,228.8L268.1,229.3L266.9,229.8L265.9,228.8L265.8,228.0L264.9,227.6L265.5,226.5L266.2,225.4L266.1,226.4L266.3,227.5L267.3,226.8L268.5,227.1L269.1,227.9L269.2,228.8ZM256.3,250.4L256.1,251.2L256.2,252.0L256.2,253.4L255.3,253.8L254.6,253.6L253.7,253.7L252.9,253.8L253.1,252.4L253.3,251.0L254.1,250.9L254.8,250.7L255.5,250.3L256.3,250.4ZM254.0,255.5L254.0,256.8L254.2,258.1L254.3,259.3L253.4,259.9L252.5,260.5L251.6,261.2L250.4,261.4L249.2,261.6L249.1,260.4L249.0,259.2L249.0,257.9L249.7,257.1L250.4,256.3L251.1,255.5L252.6,255.5L254.0,255.5ZM215.3,215.3L214.9,216.1L214.7,217.5L214.2,217.0L213.5,216.3L212.6,216.4L211.9,217.0L211.9,215.8L212.1,214.9L212.3,214.3L212.9,214.2L213.8,214.4L214.4,215.2L215.3,215.3ZM209.0,232.0L208.2,232.8L209.0,233.9L207.8,233.4L207.2,232.7L206.1,233.0L205.6,233.8L205.8,232.7L205.8,231.6L206.7,231.4L207.4,231.0L208.3,231.6L209.0,232.0ZM237.3,286.7L237.9,288.0L238.7,287.9L239.6,287.7L240.7,287.9L241.9,288.7L242.3,289.5L242.7,290.3L242.1,290.9L241.2,291.4L240.5,292.1L239.8,292.6L238.8,293.8L238.0,294.0L237.9,295.0L237.4,294.5L236.5,294.4L235.9,293.4L235.1,293.7L234.6,292.3L234.1,290.9L234.9,289.8L235.7,288.7L236.5,287.7L237.3,286.7ZM241.8,282.0L243.1,282.4L244.0,283.2L244.8,284.3L246.2,284.2L247.0,285.3L247.9,286.3L246.9,286.4L246.5,287.2L246.1,288.1L245.2,288.2L243.9,287.6L242.7,286.9L241.9,285.9L241.2,284.8L240.5,283.8L241.1,282.9L241.8,282.0ZM233.1,291.1L233.5,291.9L233.9,292.5L234.5,292.9L234.7,293.8L234.7,294.8L234.7,295.8L233.5,295.1L232.3,294.4L232.9,293.6L232.7,292.7L233.0,292.0L233.1,291.1ZM241.6,332.4L242.2,331.6L242.7,331.4L243.8,331.8L244.9,331.9L245.9,331.1L247.0,331.6L247.1,332.4L247.9,332.8L248.3,333.7L248.5,334.8L249.0,335.7L249.5,336.8L249.7,337.7L249.0,337.6L248.1,338.3L247.3,338.5L247.0,339.4L246.0,339.9L245.5,338.6L244.7,337.8L244.0,337.9L243.3,337.5L242.5,337.0L242.4,336.1L241.4,335.8L240.6,335.3L240.4,334.6L240.8,333.9L241.0,333.1L241.6,332.4ZM250.9,339.2L251.7,339.6L252.1,340.2L252.9,340.5L253.3,341.2L253.4,342.0L253.8,342.7L254.2,343.4L254.4,344.1L253.1,343.9L251.8,343.7L251.8,342.8L250.8,342.2L250.9,341.1L249.9,340.8L250.3,340.0L250.9,339.2ZM238.2,341.7L239.2,341.6L240.1,341.7L241.3,341.6L242.1,341.7L241.9,342.4L241.9,343.2L242.8,344.0L242.3,344.5L241.9,345.2L240.9,344.6L240.1,344.7L239.2,344.6L238.3,344.2L239.0,342.9L238.2,341.7ZM286.9,371.5L287.9,371.6L288.3,370.5L289.3,369.6L290.0,370.3L291.2,370.3L292.0,371.2L293.2,370.9L292.9,371.9L292.5,372.9L291.5,373.0L290.5,373.0L289.5,372.8L288.5,373.0L287.5,372.3L286.9,371.5ZM308.9,121.7L308.1,122.5L308.6,123.3L309.4,123.7L309.6,124.9L308.5,125.2L308.8,126.1L308.2,126.9L308.1,127.8L307.5,127.4L306.6,127.9L305.8,129.1L306.6,128.4L306.2,127.6L306.2,126.6L306.7,126.1L307.4,125.5L308.0,124.8L308.9,124.4L308.4,123.3L308.4,122.4L307.6,122.0L308.9,121.7ZM292.6,135.3L292.2,136.1L292.2,136.9L293.1,137.9L292.3,138.8L291.8,139.9L291.5,138.7L291.6,137.3L292.0,136.2L292.6,135.3ZM306.5,145.0L305.9,146.0L304.9,146.1L305.2,147.0L304.8,147.8L305.6,148.4L304.3,147.8L305.1,147.1L305.5,146.3L305.1,145.8L305.4,144.3L306.5,145.0ZM419.1,265.3L418.8,264.1L418.8,263.0L419.8,262.6L420.9,262.0L420.4,261.1L420.4,260.4L420.4,261.6L420.0,263.0L421.1,263.8L422.4,263.7L421.7,264.5L421.3,265.1L420.1,265.9L419.1,265.3ZM420.7,258.7L421.0,258.0L421.3,256.7L422.1,256.1L423.1,255.8L424.0,256.0L424.4,256.6L423.7,256.6L422.8,256.5L422.7,257.4L422.4,258.2L421.8,259.0L420.7,258.7ZM389.3,291.7L388.1,292.1L387.2,293.2L385.8,293.1L385.1,293.7L385.0,294.7L385.3,295.7L385.5,296.4L385.8,297.5L385.9,298.2L387.0,297.2L387.7,296.2L387.3,294.8L387.4,295.7L388.2,296.3L389.2,296.5L390.2,296.3L389.4,295.3L389.8,294.0L389.4,292.8L389.3,291.7ZM368.0,261.6L367.8,262.6L368.4,263.2L367.7,263.8L366.8,264.0L366.0,264.5L365.4,264.9L365.5,265.7L365.6,266.4L366.3,267.6L367.0,268.9L367.7,268.0L368.7,268.0L369.6,267.0L370.0,266.2L369.7,264.8L369.2,263.8L369.7,262.6L369.3,261.6L368.0,261.6ZM363.1,421.1L362.2,421.0L361.7,420.1L361.0,419.3L359.9,419.8L359.9,421.2L360.0,422.2L358.8,422.2L357.4,421.8L357.8,422.6L357.2,423.5L358.3,423.5L359.2,423.9L358.6,424.6L357.9,424.7L357.5,425.7L358.6,425.4L359.5,425.4L360.0,426.1L361.0,426.4L361.9,426.1L361.5,425.3L361.9,424.6L362.8,424.2L362.9,422.7L363.1,422.1L363.1,421.1ZM314.5,407.5L313.7,407.6L313.0,407.9L312.3,407.0L311.3,406.9L310.9,407.6L310.3,407.4L310.2,406.2L309.3,406.6L309.1,407.4L308.4,407.6L307.5,407.7L308.3,408.2L309.2,407.8L310.2,408.4L311.0,408.5L311.8,409.0L312.9,409.4L313.6,408.7L313.3,408.0L313.1,407.3L314.5,407.5ZM325.5,421.0L324.4,419.9L324.5,420.8L323.9,421.5L322.8,420.6L324.1,421.1L324.2,422.2L323.9,423.1L322.7,422.6L322.0,423.1L321.0,423.1L322.1,423.5L322.5,424.4L322.7,423.8L323.2,422.8L324.3,422.6L324.7,423.3L325.4,422.5L325.9,421.9L325.5,421.0ZM420.5,398.1L419.6,399.3L419.0,398.7L418.0,399.3L419.0,400.2L418.2,401.4L419.2,401.0L419.8,401.0L420.7,401.2L421.3,400.7L421.5,401.5L421.9,402.1L422.4,403.1L423.4,403.5L424.1,404.3L424.8,403.1L425.8,403.7L426.7,403.5L427.3,404.0L428.2,403.0L428.7,403.8L429.9,404.3L429.2,404.2L428.3,404.2L427.5,403.6L426.6,402.6L426.1,402.1L425.4,402.3L424.6,402.2L423.5,403.0L422.6,402.2L421.5,402.0L421.2,401.2L420.5,400.6L420.5,399.8L421.6,399.2L420.5,398.1Z"/>
<path class="coast isl" d="M360.1,285.4L359.3,286.1L358.4,286.0L358.5,287.1L357.8,287.6L358.7,288.3L358.9,289.1L359.6,289.2L360.7,289.3L360.9,288.1L362.1,288.0L362.2,287.1L361.8,286.3L360.9,285.8L360.1,285.4ZM392.2,253.8L391.2,254.3L390.5,255.1L390.6,256.1L390.5,257.0L391.4,257.5L392.1,258.2L392.9,257.5L394.2,257.7L394.9,257.1L395.2,255.9L394.5,254.9L394.3,254.2L393.2,253.8L392.2,253.8ZM391.1,251.8L390.1,252.5L390.1,253.5L391.1,254.0L392.3,253.7L392.9,252.7L392.3,251.9L391.1,251.8ZM340.9,299.3L340.2,299.8L339.2,299.5L338.6,300.4L338.2,301.0L338.0,301.8L338.7,302.6L339.4,302.9L340.2,303.3L341.3,302.9L341.7,302.4L341.7,301.3L342.0,300.5L341.5,299.9L340.9,299.3ZM344.2,301.2L343.5,301.5L342.6,301.4L342.0,302.2L341.6,302.8L342.3,303.5L342.0,304.5L343.0,304.6L343.6,305.1L344.8,305.4L345.1,304.2L345.2,303.3L345.4,302.4L345.4,301.3L344.2,301.2ZM344.7,285.6L344.0,286.0L342.8,286.1L342.7,286.9L342.2,287.6L342.6,288.3L343.3,289.1L344.1,289.6L345.3,289.4L346.4,288.9L346.8,288.2L346.4,287.6L346.5,286.5L345.4,285.9L344.7,285.6ZM336.4,287.4L335.2,287.7L334.8,288.7L335.4,289.6L336.6,289.8L337.5,289.1L337.4,288.0L336.4,287.4ZM346.2,292.3L345.2,292.5L344.8,293.2L345.3,294.0L346.3,294.3L347.1,293.7L347.1,292.8L346.2,292.3ZM347.4,296.0L346.0,296.0L345.4,296.8L346.1,297.7L347.5,298.1L348.6,297.7L348.5,296.7L347.4,296.0ZM357.9,297.5L356.9,297.7L356.4,298.4L356.9,299.2L357.9,299.5L358.7,299.0L358.7,298.1L357.9,297.5ZM365.5,300.9L364.8,300.9L363.9,301.0L363.2,302.0L364.0,303.2L364.7,303.3L365.6,303.7L366.8,303.0L366.8,301.8L366.1,301.3L365.5,300.9ZM349.4,312.2L348.1,312.1L347.3,313.0L347.5,314.3L348.6,314.9L349.8,314.4L350.1,313.2L349.4,312.2ZM342.0,304.1L341.2,304.1L340.8,304.6L341.0,305.3L341.8,305.7L342.5,305.4L342.6,304.7L342.0,304.1ZM468.3,250.6L467.4,251.8L467.5,252.8L468.5,253.0L467.8,253.5L467.6,254.2L468.1,254.6L468.6,255.4L468.5,256.0L469.7,255.9L470.0,255.0L470.1,253.9L469.1,252.9L469.5,251.5L468.3,250.6ZM451.0,249.2L450.2,249.1L449.5,249.3L449.2,250.3L448.6,251.3L449.0,252.0L449.5,252.7L450.6,253.1L451.8,252.5L452.8,252.7L453.9,252.2L454.0,251.1L454.4,250.0L453.2,249.5L451.9,249.7L451.0,249.2ZM415.0,253.1L414.1,253.7L414.1,254.7L414.9,255.3L416.0,255.1L416.5,254.2L416.0,253.3L415.0,253.1ZM413.5,251.4L412.9,252.0L412.9,252.9L413.6,253.5L414.4,253.3L414.8,252.5L414.4,251.6L413.5,251.4ZM413.7,221.9L413.0,222.7L413.2,223.7L414.2,224.2L415.1,223.7L415.4,222.7L414.8,221.9L413.7,221.9ZM348.1,284.8L347.2,285.2L346.9,286.2L347.4,287.1L348.5,287.2L349.2,286.4L349.0,285.3L348.1,284.8ZM349.2,280.7L348.3,281.1L348.0,281.9L348.7,282.7L349.7,282.7L350.4,282.0L350.1,281.1L349.2,280.7ZM352.6,280.5L352.0,280.8L351.9,281.3L352.2,281.8L352.9,281.8L353.3,281.3L353.1,280.8L352.6,280.5ZM389.4,301.0L388.6,301.2L388.2,301.9L388.6,302.6L389.5,302.8L390.1,302.3L390.1,301.5L389.4,301.0ZM387.3,260.9L386.4,261.5L386.4,262.4L387.2,263.0L388.2,262.8L388.7,261.9L388.3,261.1L387.3,260.9ZM385.8,258.6L385.1,259.1L385.1,259.8L385.7,260.3L386.6,260.1L387.0,259.4L386.6,258.7L385.8,258.6ZM421.7,226.1L421.1,226.8L421.3,227.9L422.1,228.5L423.0,228.1L423.2,227.1L422.6,226.2L421.7,226.1ZM263.5,241.9L263.9,242.1L264.4,241.9L264.7,241.4L264.4,241.1L263.9,241.1L263.5,241.5L263.5,241.9ZM264.7,211.3L265.0,211.6L265.4,211.6L265.7,211.2L265.6,210.8L265.1,210.7L264.7,210.9L264.7,211.3ZM301.3,191.2L301.6,191.8L302.5,192.1L303.3,191.8L303.4,191.2L302.8,190.7L301.8,190.7L301.3,191.2ZM251.3,258.8L252.6,258.8L253.1,258.2L253.7,257.6L253.8,256.1L252.8,255.4L252.2,255.8L251.4,256.0L251.0,256.8L250.7,257.6L251.3,258.8ZM253.7,262.3L254.6,262.2L255.3,261.2L255.4,260.2L254.7,259.7L253.7,260.3L253.3,261.4L253.7,262.3ZM254.1,253.7L255.2,253.9L256.2,253.0L256.4,251.8L255.7,251.1L254.5,251.5L253.8,252.7L254.1,253.7ZM213.8,255.9L215.0,255.8L215.7,254.8L215.2,253.7L214.1,253.2L213.0,253.8L212.9,255.1L213.8,255.9ZM244.5,342.9L244.5,341.5L244.0,341.1L243.4,340.3L242.4,340.4L241.9,340.1L241.1,341.1L241.5,341.5L241.7,342.5L242.4,342.9L243.2,343.4L244.5,342.9ZM237.0,295.2L238.1,295.0L238.2,294.0L238.2,293.0L238.1,292.0L237.3,291.3L236.8,290.7L235.8,290.6L235.2,291.0L235.5,292.3L234.5,292.8L234.9,293.8L235.3,294.7L236.4,294.4L237.0,295.2ZM248.4,426.6L248.2,425.7L248.5,424.9L247.8,424.3L246.8,425.2L246.0,425.9L246.3,426.9L246.6,428.1L247.6,428.0L248.6,427.4L248.4,426.6ZM175.3,408.7L175.7,407.5L174.9,406.4L173.6,406.3L172.7,407.3L172.9,408.6L174.0,409.3L175.3,408.7ZM250.1,447.2L249.7,446.3L248.5,445.8L247.4,446.1L247.2,447.0L248.0,447.8L249.3,447.9L250.1,447.2ZM296.1,130.9L296.5,131.7L297.4,131.9L298.1,131.4L298.1,130.5L297.5,129.9L296.6,130.1L296.1,130.9ZM302.3,106.4L302.5,107.3L303.1,107.5L303.7,107.0L303.8,106.1L303.3,105.5L302.6,105.6L302.3,106.4ZM265.8,177.9L265.5,178.9L264.7,179.6L264.4,180.5L263.3,180.5L262.7,181.2L262.0,181.4L262.1,182.6L261.5,183.5L262.0,183.8L263.1,183.6L263.2,182.3L264.0,181.3M258.7,186.9L259.3,187.5L260.4,187.4L261.0,186.7L260.8,185.9L259.8,185.6L258.9,186.1L258.7,186.9ZM238.7,146.0L239.4,146.4L240.4,146.1L241.1,145.5L240.9,144.8L239.9,144.7L239.0,145.2L238.7,146.0ZM244.8,116.8L245.2,117.1L245.8,117.1L246.2,116.7L246.1,116.2L245.5,116.1L245.0,116.3L244.8,116.8ZM253.5,112.8L254.1,113.1L255.4,113.0L256.4,112.5L256.3,112.0L255.2,112.0L254.0,112.3L253.5,112.8ZM316.6,438.5L316.4,438.3L316.0,438.2L315.8,438.5L315.9,438.9L316.2,439.0L316.5,438.9L316.6,438.5ZM308.3,423.3L307.9,423.0L307.3,422.9L306.8,423.3L306.9,423.7L307.4,423.9L308.0,423.7L308.3,423.3ZM338.8,446.3L337.6,445.8L337.0,447.0L336.2,447.2L335.4,446.3L334.9,447.3L333.8,447.3L334.0,448.2L334.7,447.7L335.9,448.2L337.2,448.8L337.5,447.9L338.1,447.4L338.8,446.3ZM332.0,453.9L331.1,453.0L330.5,453.3L329.5,453.2L328.5,454.1L328.7,455.2L330.1,455.7L330.9,455.5L331.6,455.0L332.0,453.9ZM327.6,457.1L326.8,456.4L326.0,455.6L325.2,456.5L324.0,457.3L324.2,458.2L325.6,458.5L326.6,459.1L327.1,458.0L327.6,457.1ZM309.4,466.2L308.6,465.7L307.8,465.6L307.0,465.8L305.7,466.2L305.7,466.8L307.1,467.0L307.9,467.7L308.7,466.7L309.4,466.2ZM301.4,468.7L300.9,468.1L299.8,468.0L298.9,468.5L299.0,469.2L299.9,469.6L301.0,469.4L301.4,468.7ZM296.8,468.9L296.5,468.5L295.6,468.4L295.0,468.7L295.0,469.3L295.7,469.6L296.5,469.5L296.8,468.9ZM287.3,470.7L286.8,470.3L285.7,470.1L284.8,470.4L284.8,470.9L285.7,471.2L286.8,471.1L287.3,470.7ZM282.1,467.9L281.8,467.5L281.0,467.3L280.3,467.6L280.3,468.1L280.9,468.4L281.7,468.3L282.1,467.9ZM268.1,462.0L267.6,461.5L266.6,461.2L265.7,461.5L265.6,462.0L266.4,462.5L267.5,462.5L268.1,462.0ZM360.9,417.6L360.3,417.3L359.4,417.5L358.9,418.2L359.2,418.8L360.1,418.9L360.8,418.3L360.9,417.6ZM398.2,392.4L397.2,393.4L397.5,394.4L398.7,394.0L398.2,393.0L399.0,392.9L399.7,392.5L400.6,392.7L400.7,393.6L401.5,393.4L401.9,392.4L400.6,393.0L400.8,394.0L400.2,394.6L401.4,395.5L402.4,394.9L403.3,395.3L403.6,396.3L404.8,396.6L405.7,396.4L406.5,397.2L406.3,396.2L407.4,395.6L407.2,394.6L406.3,394.2L405.2,394.3L404.7,393.7L404.1,394.2L403.4,394.5L403.3,393.4L403.5,392.5L402.3,392.2L401.9,391.1L400.8,391.5L400.5,392.3L399.3,393.1L398.2,392.4ZM408.9,393.9L409.5,395.0L410.1,395.6L410.3,396.4L411.3,397.4L412.5,397.2L412.9,398.2L413.6,397.7L414.2,397.0L415.2,397.5L416.2,397.5L416.8,396.8L416.1,395.8L417.1,394.8L415.7,394.6L415.0,394.1L414.1,394.4L414.2,395.2L414.1,396.4L412.9,396.6L412.3,395.7L411.5,396.0L410.9,395.2L410.7,394.5L410.1,393.2L408.9,393.9ZM402.5,390.2L401.8,390.3L401.1,389.3L400.2,389.7L400.4,391.0L400.8,391.5L401.7,392.3L403.0,392.5L403.4,391.6L403.5,390.7L402.5,390.2ZM407.8,391.3L406.7,391.0L405.7,391.7L405.6,392.9L406.4,393.7L407.5,393.4L408.2,392.4L407.8,391.3ZM416.3,391.2L415.1,390.7L414.2,391.3L414.3,392.4L415.3,393.3L416.5,393.3L416.9,392.3L416.3,391.2ZM431.6,394.8L430.8,394.7L430.1,394.1L429.3,394.4L429.8,395.6L430.3,396.7L431.2,396.8L432.5,397.0L432.7,396.1L432.7,395.2L431.6,394.8ZM426.8,394.9L426.5,393.7L425.3,394.1L424.5,394.5L424.9,395.7L425.6,395.8L426.3,396.9L427.6,397.1L427.8,396.2L427.3,395.4L426.8,394.9ZM368.4,402.6L367.8,402.4L366.8,402.9L366.3,403.6L366.5,404.1L367.4,403.9L368.3,403.2L368.4,402.6ZM374.6,399.5L374.3,399.4L373.9,399.6L373.8,400.0L374.0,400.2L374.4,400.2L374.7,399.9L374.6,399.5Z"/>
<path class="bord" d="M260.1,133.6L260.1,135.6L259.4,137.9L258.2,140.7L258.3,142.6L259.4,144.1L261.0,146.8L260.7,149.0L262.5,151.3L262.0,153.8L261.5,156.9L260.1,159.4L259.8,161.3L260.0,163.1L260.2,165.1L259.8,167.1L259.3,170.2L259.1,172.4L259.2,174.7L258.6,177.7L258.7,179.8L257.8,181.2L257.5,183.2L255.9,185.2L254.5,187.1M254.5,187.1L251.5,185.3L249.3,184.7L247.0,184.0L245.2,182.2L244.7,180.2L243.5,177.3L242.4,175.8L241.6,175.1M254.5,187.1L251.3,187.0L249.5,187.5L247.8,188.0L246.5,189.9L246.1,191.5L247.1,194.8L245.9,195.9L244.6,197.2L241.7,195.4L240.8,193.4L240.3,195.6L239.8,198.2M240.8,193.4L240.1,190.7L237.5,189.0L235.8,188.6L235.3,187.4L235.5,184.2L233.1,182.4L230.9,180.0L229.9,178.0L229.2,175.8L226.2,174.1L224.8,172.1L222.7,171.6L221.0,169.7L220.7,168.1L220.9,166.1L221.2,163.2L221.7,161.0L221.9,159.1L222.7,157.1L222.8,155.1M219.8,150.6L220.0,148.2L219.6,146.7L219.0,143.4L217.0,142.3L215.1,140.4L213.9,138.4L211.4,135.9L212.5,133.7L214.3,131.5L215.1,128.8L215.3,127.1L214.8,125.6L213.8,123.6L216.3,121.4L218.9,119.3L218.1,115.9L216.3,115.5L215.1,113.8L214.8,110.7L212.9,109.9L213.4,107.6L211.8,105.7L210.7,104.7L211.6,102.3L212.1,99.4M224.8,139.0L222.3,140.8L219.6,141.5L217.0,142.3M230.0,126.8L227.6,128.5L225.2,130.2L222.4,130.9L219.6,131.8L216.9,131.9L214.3,131.5M228.0,123.1L226.1,123.4L223.3,123.4L221.8,120.6L218.9,119.3M230.9,117.3L228.5,118.1L226.3,118.9L224.1,119.5L221.8,120.6M245.6,109.8L246.1,107.8L244.1,105.3L244.4,102.2L241.9,100.5L239.9,98.5L239.6,95.6L239.9,94.4M239.9,94.4L242.1,93.7L244.1,92.8L245.3,91.0L247.5,89.3L246.4,87.9M239.9,94.4L237.3,94.2L235.7,94.4L233.9,93.2L232.0,93.9L230.0,93.9L228.3,93.4M263.6,111.5L260.9,111.4M267.1,102.6L266.8,100.2L266.9,98.4L267.4,95.1L269.5,92.7L269.8,90.5L269.1,89.0M278.0,91.0L275.1,91.7L272.7,91.9L270.0,91.1L270.1,88.9L269.1,89.0M280.9,89.8L279.2,88.2L277.3,87.1L275.6,85.8L274.8,84.2M269.1,89.0L267.8,86.5L268.4,85.4M211.4,135.9L208.4,135.6L205.8,136.6L203.7,135.3L201.2,134.5L199.4,132.4L196.8,131.0L195.3,129.6L193.2,130.3L194.4,128.4L194.4,126.4L192.3,125.2L191.1,122.9M213.4,107.6L211.2,108.7L209.7,110.8L208.6,112.1L206.6,112.5L204.5,112.9L202.5,113.0L200.3,113.9L198.6,114.7L196.4,115.4L194.5,116.0L192.6,117.0L191.8,120.0L191.1,122.9M191.1,122.9L189.4,124.1L188.4,125.2L187.1,126.2L185.7,127.6L183.8,126.6L181.2,124.9L177.7,124.8L175.3,124.1L172.8,123.7L170.5,124.6L167.7,125.6M210.7,104.7L211.1,102.2L211.5,100.1L212.3,97.0M145.6,147.2L145.5,150.6L143.8,152.5L142.8,154.0L142.8,156.1L142.5,158.1L141.9,159.7L141.5,161.2L141.0,163.2L138.5,165.5L136.1,167.9L132.9,169.1L130.6,170.1L129.3,173.3L128.1,176.5L127.9,179.2L125.5,180.8L123.2,181.1L121.4,183.5L120.4,186.6L120.0,189.3L122.5,188.2L125.8,188.7L127.3,191.4L128.9,192.1L130.5,193.2L131.8,195.6L133.9,196.8L134.7,199.1L133.1,201.6L133.6,203.4L132.4,205.5L132.4,207.5L131.7,209.4L132.3,211.3L131.3,214.1L131.4,216.8L131.1,218.9L130.3,221.7L129.5,224.6L126.7,224.9L123.4,224.7L122.7,226.3L121.8,227.9L121.1,229.1L120.3,231.1L118.3,232.4L117.4,233.5L118.1,235.1L118.4,237.0L119.0,238.5L119.4,240.4L117.3,241.1L115.1,242.7L113.4,243.2L110.8,244.4L109.1,245.1L107.6,245.9L105.9,247.3L103.1,248.3L101.4,246.4L100.3,248.2L99.8,249.5L99.3,251.0L98.2,252.6L98.3,256.0L98.4,259.4L96.7,261.5L94.7,262.5L93.1,264.0L92.0,265.7L90.4,267.8L89.3,269.4L87.7,271.7M87.6,273.5L88.5,275.0L91.1,276.2L91.3,279.5L92.2,281.4L93.4,283.8L95.2,286.0L95.7,288.0L94.6,289.3L94.3,292.3L94.1,294.8L92.9,296.7L91.8,298.2L92.5,301.0L91.9,302.6L92.2,305.4L93.5,306.9L95.5,307.7L96.5,309.3L98.9,309.5L100.4,308.6L102.2,308.2L104.5,308.8L105.3,310.9L104.1,313.2L103.1,315.6L103.5,317.3L103.3,319.4L103.0,321.5L101.1,322.2L99.5,322.6L100.0,325.9L98.7,328.7L99.8,332.0L101.0,335.2L101.2,337.9L100.4,340.8L100.5,343.7L100.0,345.5L99.0,347.2L99.7,350.2M111.9,370.4L113.6,371.7L114.4,373.6L116.0,375.6L117.0,376.7L118.9,377.4L120.5,378.7L123.3,378.3L125.2,375.9L128.1,376.2L130.9,375.2L133.0,374.9L135.8,375.2L137.9,377.6L140.1,380.0L140.8,383.3L141.5,386.6L139.2,388.4L139.3,390.6L139.1,392.3L137.7,394.5L136.0,396.2L134.4,397.9L133.9,400.5L133.6,403.2L133.1,405.5M350.6,356.9L352.8,360.0L355.2,360.6L358.9,363.1L363.6,363.6L365.0,365.2L366.6,366.7L369.0,369.7L372.7,370.3L374.2,373.6L376.5,377.9L378.7,382.2L380.5,385.7L380.1,387.8L380.0,390.0L379.8,393.0L382.0,392.8L384.0,390.9L386.8,391.8L388.8,391.6L391.0,392.1L392.2,390.3L391.1,388.5L392.8,385.5L394.8,385.1L396.2,386.4L398.3,386.4L401.0,386.5L403.1,387.5L405.3,388.6L407.1,388.5L409.7,389.2L412.6,388.5L415.8,387.7L417.5,389.7L419.2,390.2L419.3,391.7L420.4,393.6"/>
</g>
<path class="fr" d="M289.3,83.69999999999999V478.7M91.80000000000001,281.2H486.8"/>
</g>
<circle class="fr" cx="289.3" cy="281.2" r="197.5"/>
<rect x="275.5" y="85.5" width="212" height="14.7" fill="#fff"/>
<text class="noaa" x="305.2" y="94.3" textLength="178.4" lengthAdjust="spacing">NOAA Physical Sciences Laboratory</text>
<g id="colorbar">
<rect x="544.5" y="445.45" width="12.7" height="31.03" fill="#9e149e"/><rect x="544.5" y="414.42" width="12.7" height="31.03" fill="#d608d6"/><rect x="544.5" y="383.39" width="12.7" height="31.03" fill="#6a08f5"/><rect x="544.5" y="352.36" width="12.7" height="31.03" fill="#1038f2"/><rect x="544.5" y="321.33" width="12.7" height="31.03" fill="#18a0ea"/><rect x="544.5" y="290.30" width="12.7" height="31.03" fill="#ffffff"/><rect x="544.5" y="259.27" width="12.7" height="31.03" fill="#ffffff"/><rect x="544.5" y="228.24" width="12.7" height="31.03" fill="#8ee10a"/><rect x="544.5" y="197.21" width="12.7" height="31.03" fill="#e2e212"/><rect x="544.5" y="166.18" width="12.7" height="31.03" fill="#ffe614"/><rect x="544.5" y="135.15" width="12.7" height="31.03" fill="#ffa50a"/><rect x="544.5" y="104.12" width="12.7" height="31.03" fill="#ff640a"/><path d="M544.5,104.12L550.8,72.4L557.1,104.12Z" fill="#cc1414"/><path d="M544.5,476.48L550.8,507.4L557.1,476.48Z" fill="#520a5c"/><path class="cbo" d="M544.5,104.12L550.8,72.4L557.1,104.12L557.1,476.48L550.8,507.4L544.5,476.48Z"/><path class="cbo" style="stroke-width:2.2" d="M544.5,476.48H557.1M544.5,445.45H557.1M544.5,414.42H557.1M544.5,383.39H557.1M544.5,352.36H557.1M544.5,321.33H557.1M544.5,290.30H557.1M544.5,259.27H557.1M544.5,228.24H557.1M544.5,197.21H557.1M544.5,166.18H557.1M544.5,135.15H557.1M544.5,104.12H557.1"/>
<g class="cbl"><text x="561.4" y="108.6">6</text><text x="561.4" y="170.7">4</text><text x="561.4" y="232.7">2</text><text x="561.4" y="294.8">0</text><text x="561.2" y="356.9"><tspan style="font-size:14.5px" dy="0.1">−</tspan><tspan x="570.9" dy="-0.1">2</tspan></text><text x="561.2" y="418.9"><tspan style="font-size:14.5px" dy="0.1">−</tspan><tspan x="570.9" dy="-0.1">4</tspan></text><text x="561.2" y="481.0"><tspan style="font-size:14.5px" dy="0.1">−</tspan><tspan x="570.9" dy="-0.1">6</tspan></text></g>
</g>
<text class="side" transform="translate(608.8,500.7) rotate(-90)" textLength="372.6" lengthAdjust="spacing">NSIDC Courtesy NOAA/ESRL Physical Sciences Division</text>
</svg>
</body></html>
